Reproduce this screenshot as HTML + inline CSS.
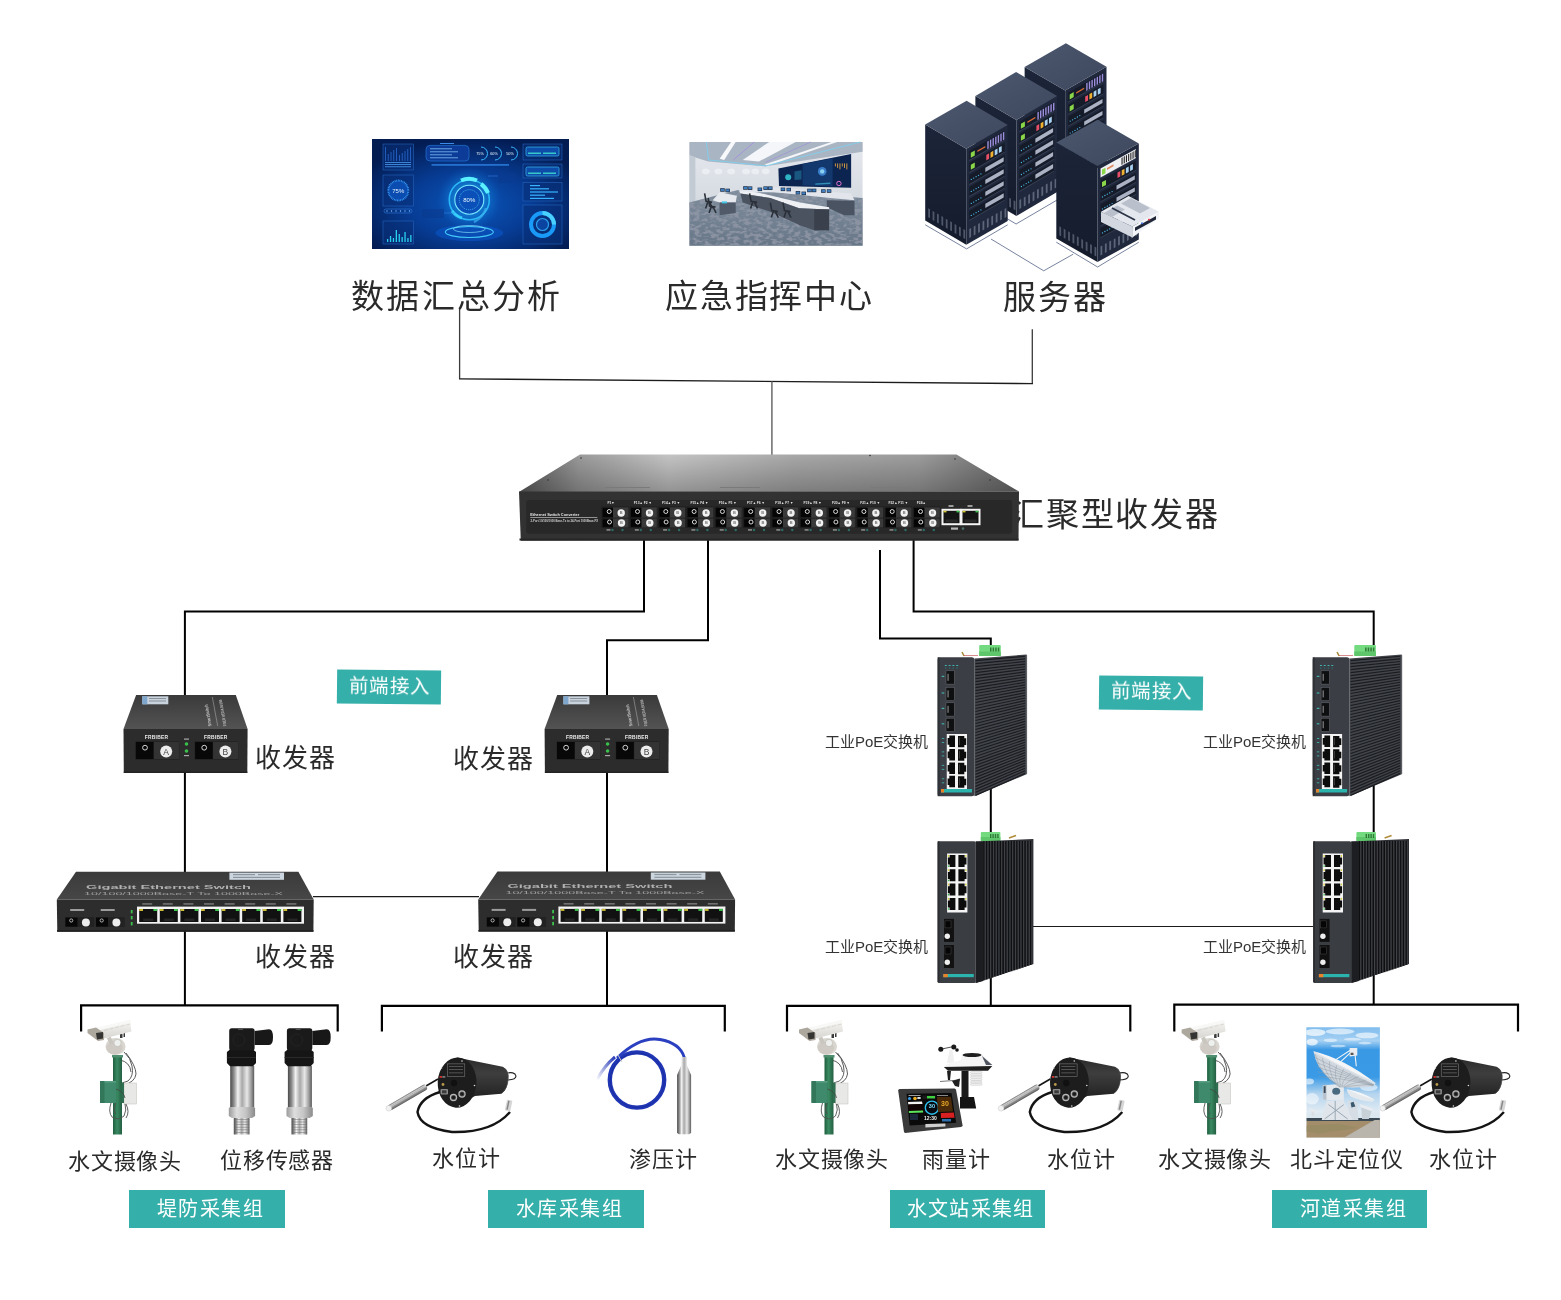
<!DOCTYPE html>
<html lang="zh-CN"><head><meta charset="utf-8"><style>
html,body{margin:0;padding:0;background:#fff}
#pg{position:relative;width:1561px;height:1300px;overflow:hidden;background:#fff;font-family:"Liberation Sans",sans-serif}
.t{position:absolute;white-space:nowrap;will-change:transform}
.box{position:absolute;background:#35afaa}
svg.full{position:absolute;left:0;top:0}
</style></head><body><div id="pg">
<svg class="full" width="1561" height="1300" viewBox="0 0 1561 1300"><path d="M459.6,308 L459.6,378.9" stroke="#3a3a3a" stroke-width="1.3" fill="none"/><path d="M1032.3,383.6 L1032.3,329.3" stroke="#3a3a3a" stroke-width="1.3" fill="none"/><path d="M459,378.9 L1033,383.6" stroke="#1c1c1c" stroke-width="1.4" fill="none"/><path d="M771.9,381.5 L771.9,455" stroke="#6a6a6a" stroke-width="1.5" fill="none"/><path d="M644,540 L644,611.5 L184.9,611.5 L184.9,696" stroke="#000" stroke-width="2" fill="none"/><path d="M708,540 L708,640.2 L607,640.2 L607,696" stroke="#000" stroke-width="2" fill="none"/><path d="M880,550 L880,638.4 L990.8,638.4 L990.8,646" stroke="#000" stroke-width="2" fill="none"/><path d="M913.6,540 L913.6,611.5 L1373.7,611.5 L1373.7,646" stroke="#000" stroke-width="2" fill="none"/><path d="M184.9,770 L184.9,873" stroke="#000" stroke-width="2" fill="none"/><path d="M607,770 L607,873" stroke="#000" stroke-width="2" fill="none"/><path d="M313,896.7 L479,896.7" stroke="#1a1a1a" stroke-width="1.2" fill="none"/><path d="M184.9,930 L184.9,1005.4" stroke="#000" stroke-width="2" fill="none"/><path d="M607,930 L607,1005.9" stroke="#000" stroke-width="2" fill="none"/><path d="M990.8,770 L990.8,842" stroke="#000" stroke-width="2" fill="none"/><path d="M1373.7,770 L1373.7,842" stroke="#000" stroke-width="2" fill="none"/><path d="M990.8,960 L990.8,1005.8" stroke="#000" stroke-width="2" fill="none"/><path d="M1373.7,960 L1373.7,1004.6" stroke="#000" stroke-width="2" fill="none"/><path d="M1030,926.5 L1314,926.5" stroke="#1a1a1a" stroke-width="1.2" fill="none"/><path d="M81.1,1031.5 L81.1,1005.4 L337.7,1005.4 L337.7,1031.5" stroke="#000" stroke-width="2.2" fill="none"/><path d="M381.9,1031.5 L381.9,1005.9 L724.8,1005.9 L724.8,1031.5" stroke="#000" stroke-width="2.2" fill="none"/><path d="M787,1031.5 L787,1005.8 L1130.3,1005.8 L1130.3,1031.5" stroke="#000" stroke-width="2.2" fill="none"/><path d="M1174.3,1031.5 L1174.3,1004.6 L1518,1004.6 L1518,1031.5" stroke="#000" stroke-width="2.2" fill="none"/></svg>
<div class="box" style="left:337px;top:669.5px;width:104px;height:33.5px;transform:rotate(0.6deg)"></div><div class="box" style="left:1099px;top:675.5px;width:104px;height:34px;transform:rotate(0.6deg)"></div><div class="box" style="left:129px;top:1190px;width:156px;height:38px;transform:rotate(0deg)"></div><div class="box" style="left:487.7px;top:1190px;width:156.3px;height:38px;transform:rotate(0deg)"></div><div class="box" style="left:889.7px;top:1190px;width:155.3px;height:38px;transform:rotate(0deg)"></div><div class="box" style="left:1271.7px;top:1190px;width:155.3px;height:38px;transform:rotate(0deg)"></div>
<div class="t" style="left:351.3px;top:279.5px;font-size:33px;line-height:33px;letter-spacing:2.3px;color:#2a2a2a;">数据汇总分析</div><div class="t" style="left:665.3px;top:279.5px;font-size:33px;line-height:33px;letter-spacing:1.8px;color:#2a2a2a;">应急指挥中心</div><div class="t" style="left:1002.9px;top:280.5px;font-size:33px;line-height:33px;letter-spacing:1.8px;color:#2a2a2a;">服务器</div><div class="t" style="left:1011.0px;top:497.5px;font-size:33px;line-height:33px;letter-spacing:1.8px;color:#2a2a2a;">汇聚型收发器</div><div class="t" style="left:254.8px;top:744.8px;font-size:26px;line-height:26px;letter-spacing:0.8px;color:#2a2a2a;">收发器</div><div class="t" style="left:452.8px;top:745.8px;font-size:26px;line-height:26px;letter-spacing:0.8px;color:#2a2a2a;">收发器</div><div class="t" style="left:255.0px;top:943.8px;font-size:26px;line-height:26px;letter-spacing:0.8px;color:#2a2a2a;">收发器</div><div class="t" style="left:452.8px;top:943.9px;font-size:26px;line-height:26px;letter-spacing:0.8px;color:#2a2a2a;">收发器</div><div class="t" style="left:825.0px;top:734.4px;font-size:15px;line-height:15px;letter-spacing:0px;color:#333;">工业PoE交换机</div><div class="t" style="left:825.0px;top:939.0px;font-size:15px;line-height:15px;letter-spacing:0px;color:#333;">工业PoE交换机</div><div class="t" style="left:1202.9px;top:734.4px;font-size:15px;line-height:15px;letter-spacing:0px;color:#333;">工业PoE交换机</div><div class="t" style="left:1202.9px;top:939.0px;font-size:15px;line-height:15px;letter-spacing:0px;color:#333;">工业PoE交换机</div><div class="t" style="left:67.7px;top:1150.5px;font-size:22px;line-height:22px;letter-spacing:0.8px;color:#2a2a2a;">水文摄像头</div><div class="t" style="left:220.4px;top:1149.5px;font-size:22px;line-height:22px;letter-spacing:0.8px;color:#2a2a2a;">位移传感器</div><div class="t" style="left:431.8px;top:1147.6px;font-size:22px;line-height:22px;letter-spacing:0.8px;color:#2a2a2a;">水位计</div><div class="t" style="left:628.5px;top:1148.8px;font-size:22px;line-height:22px;letter-spacing:0.8px;color:#2a2a2a;">渗压计</div><div class="t" style="left:775.0px;top:1149.4px;font-size:22px;line-height:22px;letter-spacing:0.8px;color:#2a2a2a;">水文摄像头</div><div class="t" style="left:922.4px;top:1149.4px;font-size:22px;line-height:22px;letter-spacing:0.8px;color:#2a2a2a;">雨量计</div><div class="t" style="left:1046.5px;top:1149.4px;font-size:22px;line-height:22px;letter-spacing:0.8px;color:#2a2a2a;">水位计</div><div class="t" style="left:1157.5px;top:1149.4px;font-size:22px;line-height:22px;letter-spacing:0.8px;color:#2a2a2a;">水文摄像头</div><div class="t" style="left:1289.7px;top:1149.4px;font-size:22px;line-height:22px;letter-spacing:0.8px;color:#2a2a2a;">北斗定位仪</div><div class="t" style="left:1428.5px;top:1149.4px;font-size:22px;line-height:22px;letter-spacing:0.8px;color:#2a2a2a;">水位计</div><div class="t" style="left:348.5px;top:677.0px;font-size:19.5px;line-height:19.5px;letter-spacing:0.3px;color:#fff;transform:rotate(0.6deg);transform-origin:40.5px 9.25px">前端接入</div><div class="t" style="left:1111.1px;top:682.0px;font-size:19.5px;line-height:19.5px;letter-spacing:0.3px;color:#fff;transform:rotate(0.6deg);transform-origin:39.90000000000009px 10.5px">前端接入</div><div class="t" style="left:156.5px;top:1199.3px;font-size:20px;line-height:20px;letter-spacing:1.4px;color:#fff;transform:rotate(0deg);transform-origin:50.5px 9.700000000000045px">堤防采集组</div><div class="t" style="left:515.8px;top:1199.3px;font-size:20px;line-height:20px;letter-spacing:1.4px;color:#fff;transform:rotate(0deg);transform-origin:50.05000000000004px 9.700000000000045px">水库采集组</div><div class="t" style="left:906.5px;top:1199.3px;font-size:20px;line-height:20px;letter-spacing:1.2px;color:#fff;transform:rotate(0deg);transform-origin:60.85000000000005px 9.700000000000045px">水文站采集组</div><div class="t" style="left:1299.5px;top:1199.3px;font-size:20px;line-height:20px;letter-spacing:1.4px;color:#fff;transform:rotate(0deg);transform-origin:49.85000000000005px 9.700000000000045px">河道采集组</div>
<svg class="full" width="1561" height="1300" viewBox="0 0 1561 1300"><defs><linearGradient id="bsTop" x1="0" y1="0" x2="1" y2="0">
<stop offset="0" stop-color="#5e5e5e"/><stop offset="0.12" stop-color="#9a9a9a"/><stop offset="0.3" stop-color="#c4c4c4"/>
<stop offset="0.55" stop-color="#a8a8a8"/><stop offset="0.8" stop-color="#9c9c9c"/><stop offset="1" stop-color="#6a6a6a"/></linearGradient>
<linearGradient id="bsTopV" x1="0" y1="0" x2="0" y2="1"><stop offset="0" stop-color="#000" stop-opacity="0"/><stop offset="1" stop-color="#000" stop-opacity="0.25"/></linearGradient><linearGradient id="cvTop" x1="0" y1="0" x2="0" y2="1"><stop offset="0" stop-color="#3a3a3a"/><stop offset="1" stop-color="#535353"/></linearGradient><linearGradient id="gsTop" x1="0" y1="0" x2="0" y2="1"><stop offset="0" stop-color="#3a3a3a"/><stop offset="1" stop-color="#474747"/></linearGradient><radialGradient id="dbBg" cx="0.5" cy="0.6" r="0.62"><stop offset="0" stop-color="#0a56ba"/><stop offset="0.5" stop-color="#073c94"/><stop offset="1" stop-color="#031c52"/></radialGradient>
<radialGradient id="dbGlow" cx="0.5" cy="0.5" r="0.5"><stop offset="0" stop-color="#5fe8ff" stop-opacity="0.75"/><stop offset="0.45" stop-color="#1aa8f0" stop-opacity="0.5"/><stop offset="1" stop-color="#0a6ad6" stop-opacity="0"/></radialGradient><linearGradient id="crFloor" x1="0" y1="0" x2="0" y2="1"><stop offset="0" stop-color="#7f8d9d"/><stop offset="1" stop-color="#687788"/></linearGradient>
<linearGradient id="crWall" x1="0" y1="0" x2="0" y2="1"><stop offset="0" stop-color="#e6e9ee"/><stop offset="1" stop-color="#c9d0d9"/></linearGradient>
<pattern id="crPat" width="23" height="13" patternUnits="userSpaceOnUse" patternTransform="rotate(-12)"><ellipse cx="5" cy="3" rx="4.5" ry="1.8" fill="#4a5666" opacity="0.55"/><ellipse cx="16" cy="9" rx="3.5" ry="1.6" fill="#525e70" opacity="0.5"/><ellipse cx="13" cy="2" rx="2" ry="0.9" fill="#a4b2c2" opacity="0.5"/><ellipse cx="3" cy="10" rx="2.5" ry="1" fill="#9aa8b8" opacity="0.45"/><ellipse cx="20" cy="5" rx="1.5" ry="1" fill="#56627a" opacity="0.5"/></pattern><filter id="crNoise" x="0" y="0" width="100%" height="100%"><feTurbulence type="fractalNoise" baseFrequency="0.18 0.32" numOctaves="2" seed="7"/><feColorMatrix type="matrix" values="0 0 0 0 0.28  0 0 0 0 0.31  0 0 0 0 0.38  0 0 0 -4.5 2.55"/><feComposite in2="SourceGraphic" operator="in"/></filter>
<clipPath id="crFloorClip"><polygon points="689.4,202.6 738.0,189.9 862.6,198.0 862.6,245.8 689.4,245.8"/></clipPath><linearGradient id="rkL" x1="0" y1="0" x2="0" y2="1"><stop offset="0" stop-color="#1c2539"/><stop offset="1" stop-color="#141b2b"/></linearGradient>
<linearGradient id="rkT" x1="0" y1="0" x2="1" y2="1"><stop offset="0" stop-color="#4c586f"/><stop offset="1" stop-color="#3d475d"/></linearGradient><linearGradient id="poleG" x1="0" y1="0" x2="1" y2="0"><stop offset="0" stop-color="#1f5e3e"/><stop offset="0.45" stop-color="#3a8a62"/><stop offset="1" stop-color="#245f42"/></linearGradient>
<linearGradient id="camG" x1="0" y1="0" x2="0" y2="1"><stop offset="0" stop-color="#f6f6f4"/><stop offset="1" stop-color="#d6d4cf"/></linearGradient><linearGradient id="steelG" x1="0" y1="0" x2="1" y2="0"><stop offset="0" stop-color="#4a4a4a"/><stop offset="0.15" stop-color="#8a8a8a"/><stop offset="0.32" stop-color="#f2f2f2"/><stop offset="0.5" stop-color="#a8a8a8"/><stop offset="0.7" stop-color="#e8e8e8"/><stop offset="0.88" stop-color="#9a9a9a"/><stop offset="1" stop-color="#5a5a5a"/></linearGradient>
<linearGradient id="nutG" x1="0" y1="0" x2="1" y2="0"><stop offset="0" stop-color="#9a9a9a"/><stop offset="0.3" stop-color="#dedede"/><stop offset="0.65" stop-color="#c4c4c4"/><stop offset="1" stop-color="#8a8a8a"/></linearGradient><linearGradient id="cylG" x1="0" y1="0" x2="0" y2="1"><stop offset="0" stop-color="#2a2a2a"/><stop offset="0.35" stop-color="#3e3e3e"/><stop offset="0.7" stop-color="#2c2c2c"/><stop offset="1" stop-color="#1a1a1a"/></linearGradient>
<linearGradient id="probeX" x1="0" y1="0" x2="0" y2="1"><stop offset="0" stop-color="#6a6a6a"/><stop offset="0.3" stop-color="#e6e6e6"/><stop offset="0.6" stop-color="#a0a0a0"/><stop offset="1" stop-color="#555"/></linearGradient><linearGradient id="fadeBlue" x1="1" y1="0" x2="0" y2="1"><stop offset="0" stop-color="#2438b8"/><stop offset="1" stop-color="#2438b8" stop-opacity="0"/></linearGradient><linearGradient id="skyG" x1="0" y1="0" x2="0" y2="1"><stop offset="0" stop-color="#3a98e4"/><stop offset="0.45" stop-color="#3a9ae6"/><stop offset="0.6" stop-color="#b4d4ee"/><stop offset="0.78" stop-color="#e4edf4"/><stop offset="1" stop-color="#dfe8ef"/></linearGradient>
<clipPath id="tclip"><rect x="1306.3" y="1027.2" width="73.6" height="110.6"/></clipPath><linearGradient id="cloudBand" x1="0" y1="0" x2="0" y2="1"><stop offset="0" stop-color="#fff" stop-opacity="0.35"/><stop offset="0.6" stop-color="#fff" stop-opacity="0.55"/><stop offset="1" stop-color="#fff" stop-opacity="0"/></linearGradient></defs><g><polygon points="519,492 580,454.5 956.5,454.5 1019,491.5" fill="url(#bsTop)"/><polygon points="519,492 580,454.5 956.5,454.5 1019,491.5" fill="url(#bsTopV)"/><line x1="605" y1="487.5" x2="650" y2="487.5" stroke="#7a7a7a" stroke-width="1"/><line x1="720" y1="487.5" x2="760" y2="487.5" stroke="#7a7a7a" stroke-width="1"/><line x1="870" y1="487.5" x2="910" y2="487.5" stroke="#7a7a7a" stroke-width="1"/><circle cx="581" cy="458" r="0.8" fill="#333"/><circle cx="548" cy="480" r="0.8" fill="#333"/><circle cx="870" cy="455.5" r="0.8" fill="#333"/><circle cx="955" cy="459" r="0.8" fill="#333"/><circle cx="990" cy="480" r="0.8" fill="#333"/><polygon points="519,491.5 1019,491.5 1018.5,540.5 520.8,540.7" fill="#323232"/><rect x="519.5" y="538.5" width="499" height="2" fill="#262626"/><rect x="526.2" y="500.1" width="486" height="33.7" rx="3" fill="#282828"/><text x="530.3" y="516.3" font-size="4" font-weight="bold" fill="#e6e6e6" font-family="Liberation Sans" textLength="49" lengthAdjust="spacingAndGlyphs">Ethernet Switch Converter</text><rect x="530.3" y="517.2" width="67" height="0.6" fill="#ddd"/><text x="530.6" y="521.6" font-size="2.6" font-weight="bold" fill="#d0d0d0" font-family="Liberation Sans" textLength="67.4" lengthAdjust="spacingAndGlyphs">2-Port 10/100/1000 Base-Tx to 24-Port 1000Base-FX</text><rect x="601.5" y="506.5" width="27.5" height="21.5" fill="#1c1c1c"/><rect x="613.0" y="507.3" width="15.5" height="10.4" fill="#3a3a3a"/><rect x="602.7" y="508.1" width="10.3" height="8.9" fill="#050505"/><rect x="613.0" y="518.5" width="15.5" height="9" fill="#3a3a3a"/><rect x="602.7" y="519.3" width="10.3" height="7.5" fill="#050505"/><circle cx="609.2" cy="511.5" r="2" fill="none" stroke="#eee" stroke-width="0.9"/><circle cx="609.5" cy="522" r="2" fill="none" stroke="#eee" stroke-width="0.9"/><circle cx="621.2" cy="513" r="3.7" fill="#f2f2f2"/><circle cx="621.5" cy="523" r="3.7" fill="#f2f2f2"/><text x="621.2" y="514.4" font-size="4" font-weight="bold" text-anchor="middle" fill="#777" font-family="Liberation Sans">B</text><text x="621.5" y="524.4" font-size="4" font-weight="bold" text-anchor="middle" fill="#777" font-family="Liberation Sans">B</text><text x="607.5" y="504.3" font-size="3.3" font-weight="bold" fill="#e0e0e0" font-family="Liberation Sans">F1▼</text><rect x="606.5" y="529" width="4" height="1.8" fill="#bbb" opacity="0.6"/><circle cx="612.5" cy="530" r="1.2" fill="#2f6b66"/><circle cx="622.5" cy="530" r="1.2" fill="#2f6b66"/><rect x="629.8" y="506.5" width="27.5" height="21.5" fill="#1c1c1c"/><rect x="641.3" y="507.3" width="15.5" height="10.4" fill="#3a3a3a"/><rect x="631.0" y="508.1" width="10.3" height="8.9" fill="#050505"/><rect x="641.3" y="518.5" width="15.5" height="9" fill="#3a3a3a"/><rect x="631.0" y="519.3" width="10.3" height="7.5" fill="#050505"/><circle cx="637.5" cy="511.5" r="2" fill="none" stroke="#eee" stroke-width="0.9"/><circle cx="637.8" cy="522" r="2" fill="none" stroke="#eee" stroke-width="0.9"/><circle cx="649.5" cy="513" r="3.7" fill="#f2f2f2"/><circle cx="649.8" cy="523" r="3.7" fill="#f2f2f2"/><text x="649.5" y="514.4" font-size="4" font-weight="bold" text-anchor="middle" fill="#777" font-family="Liberation Sans">B</text><text x="649.8" y="524.4" font-size="4" font-weight="bold" text-anchor="middle" fill="#777" font-family="Liberation Sans">B</text><text x="633.8" y="504.3" font-size="3.3" font-weight="bold" fill="#e0e0e0" font-family="Liberation Sans">F13▲ F2 ▼</text><rect x="634.8" y="529" width="4" height="1.8" fill="#bbb" opacity="0.6"/><circle cx="640.8" cy="530" r="1.2" fill="#2f6b66"/><circle cx="650.8" cy="530" r="1.2" fill="#2f6b66"/><rect x="658.1" y="506.5" width="27.5" height="21.5" fill="#1c1c1c"/><rect x="669.6" y="507.3" width="15.5" height="10.4" fill="#3a3a3a"/><rect x="659.3000000000001" y="508.1" width="10.3" height="8.9" fill="#050505"/><rect x="669.6" y="518.5" width="15.5" height="9" fill="#3a3a3a"/><rect x="659.3000000000001" y="519.3" width="10.3" height="7.5" fill="#050505"/><circle cx="665.8000000000001" cy="511.5" r="2" fill="none" stroke="#eee" stroke-width="0.9"/><circle cx="666.1" cy="522" r="2" fill="none" stroke="#eee" stroke-width="0.9"/><circle cx="677.8000000000001" cy="513" r="3.7" fill="#f2f2f2"/><circle cx="678.1" cy="523" r="3.7" fill="#f2f2f2"/><text x="677.8000000000001" y="514.4" font-size="4" font-weight="bold" text-anchor="middle" fill="#777" font-family="Liberation Sans">B</text><text x="678.1" y="524.4" font-size="4" font-weight="bold" text-anchor="middle" fill="#777" font-family="Liberation Sans">B</text><text x="662.1" y="504.3" font-size="3.3" font-weight="bold" fill="#e0e0e0" font-family="Liberation Sans">F14▲ F3 ▼</text><rect x="663.1" y="529" width="4" height="1.8" fill="#bbb" opacity="0.6"/><circle cx="669.1" cy="530" r="1.2" fill="#2f6b66"/><circle cx="679.1" cy="530" r="1.2" fill="#2f6b66"/><rect x="686.4" y="506.5" width="27.5" height="21.5" fill="#1c1c1c"/><rect x="697.9" y="507.3" width="15.5" height="10.4" fill="#3a3a3a"/><rect x="687.6" y="508.1" width="10.3" height="8.9" fill="#050505"/><rect x="697.9" y="518.5" width="15.5" height="9" fill="#3a3a3a"/><rect x="687.6" y="519.3" width="10.3" height="7.5" fill="#050505"/><circle cx="694.1" cy="511.5" r="2" fill="none" stroke="#eee" stroke-width="0.9"/><circle cx="694.4" cy="522" r="2" fill="none" stroke="#eee" stroke-width="0.9"/><circle cx="706.1" cy="513" r="3.7" fill="#f2f2f2"/><circle cx="706.4" cy="523" r="3.7" fill="#f2f2f2"/><text x="706.1" y="514.4" font-size="4" font-weight="bold" text-anchor="middle" fill="#777" font-family="Liberation Sans">B</text><text x="706.4" y="524.4" font-size="4" font-weight="bold" text-anchor="middle" fill="#777" font-family="Liberation Sans">B</text><text x="690.4" y="504.3" font-size="3.3" font-weight="bold" fill="#e0e0e0" font-family="Liberation Sans">F15▲ F4 ▼</text><rect x="691.4" y="529" width="4" height="1.8" fill="#bbb" opacity="0.6"/><circle cx="697.4" cy="530" r="1.2" fill="#2f6b66"/><circle cx="707.4" cy="530" r="1.2" fill="#2f6b66"/><rect x="714.7" y="506.5" width="27.5" height="21.5" fill="#1c1c1c"/><rect x="726.2" y="507.3" width="15.5" height="10.4" fill="#3a3a3a"/><rect x="715.9000000000001" y="508.1" width="10.3" height="8.9" fill="#050505"/><rect x="726.2" y="518.5" width="15.5" height="9" fill="#3a3a3a"/><rect x="715.9000000000001" y="519.3" width="10.3" height="7.5" fill="#050505"/><circle cx="722.4000000000001" cy="511.5" r="2" fill="none" stroke="#eee" stroke-width="0.9"/><circle cx="722.7" cy="522" r="2" fill="none" stroke="#eee" stroke-width="0.9"/><circle cx="734.4000000000001" cy="513" r="3.7" fill="#f2f2f2"/><circle cx="734.7" cy="523" r="3.7" fill="#f2f2f2"/><text x="734.4000000000001" y="514.4" font-size="4" font-weight="bold" text-anchor="middle" fill="#777" font-family="Liberation Sans">B</text><text x="734.7" y="524.4" font-size="4" font-weight="bold" text-anchor="middle" fill="#777" font-family="Liberation Sans">B</text><text x="718.7" y="504.3" font-size="3.3" font-weight="bold" fill="#e0e0e0" font-family="Liberation Sans">F16▲ F5 ▼</text><rect x="719.7" y="529" width="4" height="1.8" fill="#bbb" opacity="0.6"/><circle cx="725.7" cy="530" r="1.2" fill="#2f6b66"/><circle cx="735.7" cy="530" r="1.2" fill="#2f6b66"/><rect x="743.0" y="506.5" width="27.5" height="21.5" fill="#1c1c1c"/><rect x="754.5" y="507.3" width="15.5" height="10.4" fill="#3a3a3a"/><rect x="744.2" y="508.1" width="10.3" height="8.9" fill="#050505"/><rect x="754.5" y="518.5" width="15.5" height="9" fill="#3a3a3a"/><rect x="744.2" y="519.3" width="10.3" height="7.5" fill="#050505"/><circle cx="750.7" cy="511.5" r="2" fill="none" stroke="#eee" stroke-width="0.9"/><circle cx="751.0" cy="522" r="2" fill="none" stroke="#eee" stroke-width="0.9"/><circle cx="762.7" cy="513" r="3.7" fill="#f2f2f2"/><circle cx="763.0" cy="523" r="3.7" fill="#f2f2f2"/><text x="762.7" y="514.4" font-size="4" font-weight="bold" text-anchor="middle" fill="#777" font-family="Liberation Sans">B</text><text x="763.0" y="524.4" font-size="4" font-weight="bold" text-anchor="middle" fill="#777" font-family="Liberation Sans">B</text><text x="747.0" y="504.3" font-size="3.3" font-weight="bold" fill="#e0e0e0" font-family="Liberation Sans">F17▲ F6 ▼</text><rect x="748.0" y="529" width="4" height="1.8" fill="#bbb" opacity="0.6"/><circle cx="754.0" cy="530" r="1.2" fill="#2f6b66"/><circle cx="764.0" cy="530" r="1.2" fill="#2f6b66"/><rect x="771.3" y="506.5" width="27.5" height="21.5" fill="#1c1c1c"/><rect x="782.8" y="507.3" width="15.5" height="10.4" fill="#3a3a3a"/><rect x="772.5" y="508.1" width="10.3" height="8.9" fill="#050505"/><rect x="782.8" y="518.5" width="15.5" height="9" fill="#3a3a3a"/><rect x="772.5" y="519.3" width="10.3" height="7.5" fill="#050505"/><circle cx="779.0" cy="511.5" r="2" fill="none" stroke="#eee" stroke-width="0.9"/><circle cx="779.3" cy="522" r="2" fill="none" stroke="#eee" stroke-width="0.9"/><circle cx="791.0" cy="513" r="3.7" fill="#f2f2f2"/><circle cx="791.3" cy="523" r="3.7" fill="#f2f2f2"/><text x="791.0" y="514.4" font-size="4" font-weight="bold" text-anchor="middle" fill="#777" font-family="Liberation Sans">B</text><text x="791.3" y="524.4" font-size="4" font-weight="bold" text-anchor="middle" fill="#777" font-family="Liberation Sans">B</text><text x="775.3" y="504.3" font-size="3.3" font-weight="bold" fill="#e0e0e0" font-family="Liberation Sans">F18▲ F7 ▼</text><rect x="776.3" y="529" width="4" height="1.8" fill="#bbb" opacity="0.6"/><circle cx="782.3" cy="530" r="1.2" fill="#2f6b66"/><circle cx="792.3" cy="530" r="1.2" fill="#2f6b66"/><rect x="799.6" y="506.5" width="27.5" height="21.5" fill="#1c1c1c"/><rect x="811.1" y="507.3" width="15.5" height="10.4" fill="#3a3a3a"/><rect x="800.8000000000001" y="508.1" width="10.3" height="8.9" fill="#050505"/><rect x="811.1" y="518.5" width="15.5" height="9" fill="#3a3a3a"/><rect x="800.8000000000001" y="519.3" width="10.3" height="7.5" fill="#050505"/><circle cx="807.3000000000001" cy="511.5" r="2" fill="none" stroke="#eee" stroke-width="0.9"/><circle cx="807.6" cy="522" r="2" fill="none" stroke="#eee" stroke-width="0.9"/><circle cx="819.3000000000001" cy="513" r="3.7" fill="#f2f2f2"/><circle cx="819.6" cy="523" r="3.7" fill="#f2f2f2"/><text x="819.3000000000001" y="514.4" font-size="4" font-weight="bold" text-anchor="middle" fill="#777" font-family="Liberation Sans">B</text><text x="819.6" y="524.4" font-size="4" font-weight="bold" text-anchor="middle" fill="#777" font-family="Liberation Sans">B</text><text x="803.6" y="504.3" font-size="3.3" font-weight="bold" fill="#e0e0e0" font-family="Liberation Sans">F19▲ F8 ▼</text><rect x="804.6" y="529" width="4" height="1.8" fill="#bbb" opacity="0.6"/><circle cx="810.6" cy="530" r="1.2" fill="#2f6b66"/><circle cx="820.6" cy="530" r="1.2" fill="#2f6b66"/><rect x="827.9" y="506.5" width="27.5" height="21.5" fill="#1c1c1c"/><rect x="839.4" y="507.3" width="15.5" height="10.4" fill="#3a3a3a"/><rect x="829.1" y="508.1" width="10.3" height="8.9" fill="#050505"/><rect x="839.4" y="518.5" width="15.5" height="9" fill="#3a3a3a"/><rect x="829.1" y="519.3" width="10.3" height="7.5" fill="#050505"/><circle cx="835.6" cy="511.5" r="2" fill="none" stroke="#eee" stroke-width="0.9"/><circle cx="835.9" cy="522" r="2" fill="none" stroke="#eee" stroke-width="0.9"/><circle cx="847.6" cy="513" r="3.7" fill="#f2f2f2"/><circle cx="847.9" cy="523" r="3.7" fill="#f2f2f2"/><text x="847.6" y="514.4" font-size="4" font-weight="bold" text-anchor="middle" fill="#777" font-family="Liberation Sans">B</text><text x="847.9" y="524.4" font-size="4" font-weight="bold" text-anchor="middle" fill="#777" font-family="Liberation Sans">B</text><text x="831.9" y="504.3" font-size="3.3" font-weight="bold" fill="#e0e0e0" font-family="Liberation Sans">F20▲ F9 ▼</text><rect x="832.9" y="529" width="4" height="1.8" fill="#bbb" opacity="0.6"/><circle cx="838.9" cy="530" r="1.2" fill="#2f6b66"/><circle cx="848.9" cy="530" r="1.2" fill="#2f6b66"/><rect x="856.2" y="506.5" width="27.5" height="21.5" fill="#1c1c1c"/><rect x="867.7" y="507.3" width="15.5" height="10.4" fill="#3a3a3a"/><rect x="857.4000000000001" y="508.1" width="10.3" height="8.9" fill="#050505"/><rect x="867.7" y="518.5" width="15.5" height="9" fill="#3a3a3a"/><rect x="857.4000000000001" y="519.3" width="10.3" height="7.5" fill="#050505"/><circle cx="863.9000000000001" cy="511.5" r="2" fill="none" stroke="#eee" stroke-width="0.9"/><circle cx="864.2" cy="522" r="2" fill="none" stroke="#eee" stroke-width="0.9"/><circle cx="875.9000000000001" cy="513" r="3.7" fill="#f2f2f2"/><circle cx="876.2" cy="523" r="3.7" fill="#f2f2f2"/><text x="875.9000000000001" y="514.4" font-size="4" font-weight="bold" text-anchor="middle" fill="#777" font-family="Liberation Sans">B</text><text x="876.2" y="524.4" font-size="4" font-weight="bold" text-anchor="middle" fill="#777" font-family="Liberation Sans">B</text><text x="860.2" y="504.3" font-size="3.3" font-weight="bold" fill="#e0e0e0" font-family="Liberation Sans">F21▲ F10 ▼</text><rect x="861.2" y="529" width="4" height="1.8" fill="#bbb" opacity="0.6"/><circle cx="867.2" cy="530" r="1.2" fill="#2f6b66"/><circle cx="877.2" cy="530" r="1.2" fill="#2f6b66"/><rect x="884.5" y="506.5" width="27.5" height="21.5" fill="#1c1c1c"/><rect x="896.0" y="507.3" width="15.5" height="10.4" fill="#3a3a3a"/><rect x="885.7" y="508.1" width="10.3" height="8.9" fill="#050505"/><rect x="896.0" y="518.5" width="15.5" height="9" fill="#3a3a3a"/><rect x="885.7" y="519.3" width="10.3" height="7.5" fill="#050505"/><circle cx="892.2" cy="511.5" r="2" fill="none" stroke="#eee" stroke-width="0.9"/><circle cx="892.5" cy="522" r="2" fill="none" stroke="#eee" stroke-width="0.9"/><circle cx="904.2" cy="513" r="3.7" fill="#f2f2f2"/><circle cx="904.5" cy="523" r="3.7" fill="#f2f2f2"/><text x="904.2" y="514.4" font-size="4" font-weight="bold" text-anchor="middle" fill="#777" font-family="Liberation Sans">B</text><text x="904.5" y="524.4" font-size="4" font-weight="bold" text-anchor="middle" fill="#777" font-family="Liberation Sans">B</text><text x="888.5" y="504.3" font-size="3.3" font-weight="bold" fill="#e0e0e0" font-family="Liberation Sans">F22▲ F11 ▼</text><rect x="889.5" y="529" width="4" height="1.8" fill="#bbb" opacity="0.6"/><circle cx="895.5" cy="530" r="1.2" fill="#2f6b66"/><circle cx="905.5" cy="530" r="1.2" fill="#2f6b66"/><rect x="912.8" y="506.5" width="27.5" height="21.5" fill="#1c1c1c"/><rect x="924.3" y="507.3" width="15.5" height="10.4" fill="#3a3a3a"/><rect x="914.0" y="508.1" width="10.3" height="8.9" fill="#050505"/><rect x="924.3" y="518.5" width="15.5" height="9" fill="#3a3a3a"/><rect x="914.0" y="519.3" width="10.3" height="7.5" fill="#050505"/><circle cx="920.5" cy="511.5" r="2" fill="none" stroke="#eee" stroke-width="0.9"/><circle cx="920.8" cy="522" r="2" fill="none" stroke="#eee" stroke-width="0.9"/><circle cx="932.5" cy="513" r="3.7" fill="#f2f2f2"/><circle cx="932.8" cy="523" r="3.7" fill="#f2f2f2"/><text x="932.5" y="514.4" font-size="4" font-weight="bold" text-anchor="middle" fill="#777" font-family="Liberation Sans">B</text><text x="932.8" y="524.4" font-size="4" font-weight="bold" text-anchor="middle" fill="#777" font-family="Liberation Sans">B</text><text x="916.8" y="504.3" font-size="3.3" font-weight="bold" fill="#e0e0e0" font-family="Liberation Sans">F24▲</text><rect x="917.8" y="529" width="4" height="1.8" fill="#bbb" opacity="0.6"/><circle cx="923.8" cy="530" r="1.2" fill="#2f6b66"/><circle cx="933.8" cy="530" r="1.2" fill="#2f6b66"/><rect x="941.5" y="508.8" width="20" height="16.4" fill="#f4f4f4"/><rect x="943.5" y="510.8" width="16" height="12.4" fill="#151515"/><rect x="943.5" y="510.8" width="3" height="1.6" fill="#d7c930"/><rect x="956.5" y="510.8" width="3" height="1.6" fill="#3cc24a"/><rect x="945.5" y="519.5" width="12" height="3" fill="#2a2a2a"/><rect x="948.5" y="505" width="5" height="2" fill="#ccc" opacity="0.7"/><rect x="960.5" y="508.8" width="20" height="16.4" fill="#f4f4f4"/><rect x="962.5" y="510.8" width="16" height="12.4" fill="#151515"/><rect x="962.5" y="510.8" width="3" height="1.6" fill="#d7c930"/><rect x="975.5" y="510.8" width="3" height="1.6" fill="#3cc24a"/><rect x="964.5" y="519.5" width="12" height="3" fill="#2a2a2a"/><rect x="967.5" y="505" width="5" height="2" fill="#ccc" opacity="0.7"/><rect x="951" y="527.5" width="7" height="2.2" fill="#ddd" opacity="0.8"/><circle cx="963" cy="528.6" r="1.3" fill="#4a6e6a"/></g><g transform="translate(0,0)"><polygon points="123.5,729 136.1,695 235.8,695 247.6,729" fill="url(#cvTop)"/><rect x="142.3" y="696.3" width="26" height="8" fill="#c9d3de"/><rect x="142.3" y="696.3" width="5" height="8" fill="#7fa6cc"/><rect x="149" y="698" width="17" height="1" fill="#8a929a"/><rect x="149" y="700.5" width="17" height="1" fill="#8a929a"/><line x1="212.3" y1="697" x2="217.7" y2="726" stroke="#b8b8b8" stroke-width="0.5"/><text x="0" y="0" font-size="4.6" font-weight="bold" fill="#c8c8c8" font-family="Liberation Sans" textLength="22" lengthAdjust="spacingAndGlyphs" transform="translate(211.5 726) rotate(-100)">SmartSwitch</text><text x="0" y="0" font-size="4.2" font-weight="bold" fill="#c0c0c0" font-family="Liberation Sans" textLength="27" lengthAdjust="spacingAndGlyphs" transform="translate(226.5 726) rotate(-100)">FIBER MEDIA 10/100</text><polygon points="123.5,729 247.6,729 247.3,773 123.8,773" fill="#2c2c2c"/><rect x="123.8" y="771.5" width="123.5" height="1.5" fill="#222"/><text x="144.8" y="739" font-size="4.9" font-weight="bold" fill="#ececec" font-family="Liberation Sans" textLength="23.2" lengthAdjust="spacing">FRBIBER</text><rect x="135.4" y="741.2" width="43.8" height="18.5" fill="#222"/><rect x="135.9" y="742" width="17.6" height="17" fill="#080808"/><rect x="153.9" y="742" width="25" height="17" fill="#333"/><circle cx="145.0" cy="747.7" r="2.4" fill="none" stroke="#e8e8e8" stroke-width="0.9"/><circle cx="166.20000000000002" cy="751.6" r="6" fill="#ededed"/><text x="166.20000000000002" y="754.8" font-size="8.5" text-anchor="middle" fill="#444" font-family="Liberation Sans">A</text><text x="204.0" y="739" font-size="4.9" font-weight="bold" fill="#ececec" font-family="Liberation Sans" textLength="23.2" lengthAdjust="spacing">FRBIBER</text><rect x="194.6" y="741.2" width="43.8" height="18.5" fill="#222"/><rect x="195.1" y="742" width="17.6" height="17" fill="#080808"/><rect x="213.1" y="742" width="25" height="17" fill="#333"/><circle cx="204.2" cy="747.7" r="2.4" fill="none" stroke="#e8e8e8" stroke-width="0.9"/><circle cx="225.4" cy="751.6" r="6" fill="#ededed"/><text x="225.4" y="754.8" font-size="8.5" text-anchor="middle" fill="#444" font-family="Liberation Sans">B</text><circle cx="186.5" cy="744" r="1.8" fill="#39c14a"/><circle cx="186.5" cy="751" r="1.8" fill="#39c14a"/><rect x="184" y="738.5" width="5" height="1.2" fill="#aaa"/><rect x="184" y="755" width="5" height="1.2" fill="#aaa"/></g><g transform="translate(421.1,0)"><polygon points="123.5,729 136.1,695 235.8,695 247.6,729" fill="url(#cvTop)"/><rect x="142.3" y="696.3" width="26" height="8" fill="#c9d3de"/><rect x="142.3" y="696.3" width="5" height="8" fill="#7fa6cc"/><rect x="149" y="698" width="17" height="1" fill="#8a929a"/><rect x="149" y="700.5" width="17" height="1" fill="#8a929a"/><line x1="212.3" y1="697" x2="217.7" y2="726" stroke="#b8b8b8" stroke-width="0.5"/><text x="0" y="0" font-size="4.6" font-weight="bold" fill="#c8c8c8" font-family="Liberation Sans" textLength="22" lengthAdjust="spacingAndGlyphs" transform="translate(211.5 726) rotate(-100)">SmartSwitch</text><text x="0" y="0" font-size="4.2" font-weight="bold" fill="#c0c0c0" font-family="Liberation Sans" textLength="27" lengthAdjust="spacingAndGlyphs" transform="translate(226.5 726) rotate(-100)">FIBER MEDIA 10/100</text><polygon points="123.5,729 247.6,729 247.3,773 123.8,773" fill="#2c2c2c"/><rect x="123.8" y="771.5" width="123.5" height="1.5" fill="#222"/><text x="144.8" y="739" font-size="4.9" font-weight="bold" fill="#ececec" font-family="Liberation Sans" textLength="23.2" lengthAdjust="spacing">FRBIBER</text><rect x="135.4" y="741.2" width="43.8" height="18.5" fill="#222"/><rect x="135.9" y="742" width="17.6" height="17" fill="#080808"/><rect x="153.9" y="742" width="25" height="17" fill="#333"/><circle cx="145.0" cy="747.7" r="2.4" fill="none" stroke="#e8e8e8" stroke-width="0.9"/><circle cx="166.20000000000002" cy="751.6" r="6" fill="#ededed"/><text x="166.20000000000002" y="754.8" font-size="8.5" text-anchor="middle" fill="#444" font-family="Liberation Sans">A</text><text x="204.0" y="739" font-size="4.9" font-weight="bold" fill="#ececec" font-family="Liberation Sans" textLength="23.2" lengthAdjust="spacing">FRBIBER</text><rect x="194.6" y="741.2" width="43.8" height="18.5" fill="#222"/><rect x="195.1" y="742" width="17.6" height="17" fill="#080808"/><rect x="213.1" y="742" width="25" height="17" fill="#333"/><circle cx="204.2" cy="747.7" r="2.4" fill="none" stroke="#e8e8e8" stroke-width="0.9"/><circle cx="225.4" cy="751.6" r="6" fill="#ededed"/><text x="225.4" y="754.8" font-size="8.5" text-anchor="middle" fill="#444" font-family="Liberation Sans">B</text><circle cx="186.5" cy="744" r="1.8" fill="#39c14a"/><circle cx="186.5" cy="751" r="1.8" fill="#39c14a"/><rect x="184" y="738.5" width="5" height="1.2" fill="#aaa"/><rect x="184" y="755" width="5" height="1.2" fill="#aaa"/></g><g transform="translate(0,0)"><polygon points="56.8,899.5 76,871.7 298.4,871.7 313.7,899.5" fill="url(#gsTop)"/><rect x="229.4" y="872.6" width="54.6" height="7.2" fill="#ccd6e0"/><rect x="233" y="874" width="22" height="1.2" fill="#8d959c"/><rect x="258" y="874" width="22" height="1.2" fill="#8d959c"/><rect x="233" y="876.8" width="47" height="1.2" fill="#8d959c"/><text x="86" y="888.6" font-size="4.6" fill="#b0b0b0" font-family="Liberation Sans" font-weight="bold" textLength="165" lengthAdjust="spacingAndGlyphs">Gigabit Ethernet Switch</text><text x="84" y="894.6" font-size="4.4" fill="#a0a0a0" font-family="Liberation Sans" font-weight="normal" textLength="199" lengthAdjust="spacingAndGlyphs">10/100/1000Base-T To 1000Base-X</text><polygon points="56.8,899.5 313.7,899.5 313.4,931.7 57.3,931.7" fill="#2d2d2d"/><rect x="57" y="930" width="256.5" height="1.7" fill="#222"/><rect x="70.2" y="909" width="14" height="2" fill="#ccc" opacity="0.7"/><rect x="65.2" y="917.2" width="29" height="9.8" fill="#222"/><rect x="65.5" y="917.6" width="12" height="9" fill="#070707"/><circle cx="71.2" cy="920.5" r="1.6" fill="none" stroke="#eee" stroke-width="0.7"/><circle cx="85.9" cy="922.4" r="4" fill="#eee"/><rect x="100.7" y="909" width="14" height="2" fill="#ccc" opacity="0.7"/><rect x="95.7" y="917.2" width="29" height="9.8" fill="#222"/><rect x="96.0" y="917.6" width="12" height="9" fill="#070707"/><circle cx="101.7" cy="920.5" r="1.6" fill="none" stroke="#eee" stroke-width="0.7"/><circle cx="116.4" cy="922.4" r="4" fill="#eee"/><rect x="130.8" y="910" width="1.8" height="3.4" fill="#3dc44c"/><rect x="130.8" y="916" width="1.8" height="3.4" fill="#3dc44c"/><rect x="130.8" y="922" width="1.8" height="3.4" fill="#3dc44c"/><rect x="137" y="906.6" width="167" height="17.1" fill="#f3f3f3"/><rect x="139.2" y="909" width="18" height="13" fill="#111"/><rect x="139.2" y="909" width="3.8" height="2" fill="#c9bb34"/><rect x="153.39999999999998" y="909" width="3.8" height="2" fill="#3ec44d"/><rect x="143.2" y="918.5" width="10" height="2.5" fill="#262626"/><rect x="142.2" y="903.3" width="10" height="1.3" fill="#bbb" opacity="0.6"/><rect x="159.79999999999998" y="909" width="18" height="13" fill="#111"/><rect x="159.79999999999998" y="909" width="3.8" height="2" fill="#c9bb34"/><rect x="173.99999999999997" y="909" width="3.8" height="2" fill="#3ec44d"/><rect x="163.79999999999998" y="918.5" width="10" height="2.5" fill="#262626"/><rect x="162.79999999999998" y="903.3" width="10" height="1.3" fill="#bbb" opacity="0.6"/><rect x="180.39999999999998" y="909" width="18" height="13" fill="#111"/><rect x="180.39999999999998" y="909" width="3.8" height="2" fill="#c9bb34"/><rect x="194.59999999999997" y="909" width="3.8" height="2" fill="#3ec44d"/><rect x="184.39999999999998" y="918.5" width="10" height="2.5" fill="#262626"/><rect x="183.39999999999998" y="903.3" width="10" height="1.3" fill="#bbb" opacity="0.6"/><rect x="201.0" y="909" width="18" height="13" fill="#111"/><rect x="201.0" y="909" width="3.8" height="2" fill="#c9bb34"/><rect x="215.2" y="909" width="3.8" height="2" fill="#3ec44d"/><rect x="205.0" y="918.5" width="10" height="2.5" fill="#262626"/><rect x="204.0" y="903.3" width="10" height="1.3" fill="#bbb" opacity="0.6"/><rect x="221.6" y="909" width="18" height="13" fill="#111"/><rect x="221.6" y="909" width="3.8" height="2" fill="#c9bb34"/><rect x="235.79999999999998" y="909" width="3.8" height="2" fill="#3ec44d"/><rect x="225.6" y="918.5" width="10" height="2.5" fill="#262626"/><rect x="224.6" y="903.3" width="10" height="1.3" fill="#bbb" opacity="0.6"/><rect x="242.2" y="909" width="18" height="13" fill="#111"/><rect x="242.2" y="909" width="3.8" height="2" fill="#c9bb34"/><rect x="256.4" y="909" width="3.8" height="2" fill="#3ec44d"/><rect x="246.2" y="918.5" width="10" height="2.5" fill="#262626"/><rect x="245.2" y="903.3" width="10" height="1.3" fill="#bbb" opacity="0.6"/><rect x="262.8" y="909" width="18" height="13" fill="#111"/><rect x="262.8" y="909" width="3.8" height="2" fill="#c9bb34"/><rect x="277.0" y="909" width="3.8" height="2" fill="#3ec44d"/><rect x="266.8" y="918.5" width="10" height="2.5" fill="#262626"/><rect x="265.8" y="903.3" width="10" height="1.3" fill="#bbb" opacity="0.6"/><rect x="283.4" y="909" width="18" height="13" fill="#111"/><rect x="283.4" y="909" width="3.8" height="2" fill="#c9bb34"/><rect x="297.59999999999997" y="909" width="3.8" height="2" fill="#3ec44d"/><rect x="287.4" y="918.5" width="10" height="2.5" fill="#262626"/><rect x="286.4" y="903.3" width="10" height="1.3" fill="#bbb" opacity="0.6"/></g><g transform="translate(421.4,-0.1)"><polygon points="56.8,899.5 76,871.7 298.4,871.7 313.7,899.5" fill="url(#gsTop)"/><rect x="229.4" y="872.6" width="54.6" height="7.2" fill="#ccd6e0"/><rect x="233" y="874" width="22" height="1.2" fill="#8d959c"/><rect x="258" y="874" width="22" height="1.2" fill="#8d959c"/><rect x="233" y="876.8" width="47" height="1.2" fill="#8d959c"/><text x="86" y="888.6" font-size="4.6" fill="#b0b0b0" font-family="Liberation Sans" font-weight="bold" textLength="165" lengthAdjust="spacingAndGlyphs">Gigabit Ethernet Switch</text><text x="84" y="894.6" font-size="4.4" fill="#a0a0a0" font-family="Liberation Sans" font-weight="normal" textLength="199" lengthAdjust="spacingAndGlyphs">10/100/1000Base-T To 1000Base-X</text><polygon points="56.8,899.5 313.7,899.5 313.4,931.7 57.3,931.7" fill="#2d2d2d"/><rect x="57" y="930" width="256.5" height="1.7" fill="#222"/><rect x="70.2" y="909" width="14" height="2" fill="#ccc" opacity="0.7"/><rect x="65.2" y="917.2" width="29" height="9.8" fill="#222"/><rect x="65.5" y="917.6" width="12" height="9" fill="#070707"/><circle cx="71.2" cy="920.5" r="1.6" fill="none" stroke="#eee" stroke-width="0.7"/><circle cx="85.9" cy="922.4" r="4" fill="#eee"/><rect x="100.7" y="909" width="14" height="2" fill="#ccc" opacity="0.7"/><rect x="95.7" y="917.2" width="29" height="9.8" fill="#222"/><rect x="96.0" y="917.6" width="12" height="9" fill="#070707"/><circle cx="101.7" cy="920.5" r="1.6" fill="none" stroke="#eee" stroke-width="0.7"/><circle cx="116.4" cy="922.4" r="4" fill="#eee"/><rect x="130.8" y="910" width="1.8" height="3.4" fill="#3dc44c"/><rect x="130.8" y="916" width="1.8" height="3.4" fill="#3dc44c"/><rect x="130.8" y="922" width="1.8" height="3.4" fill="#3dc44c"/><rect x="137" y="906.6" width="167" height="17.1" fill="#f3f3f3"/><rect x="139.2" y="909" width="18" height="13" fill="#111"/><rect x="139.2" y="909" width="3.8" height="2" fill="#c9bb34"/><rect x="153.39999999999998" y="909" width="3.8" height="2" fill="#3ec44d"/><rect x="143.2" y="918.5" width="10" height="2.5" fill="#262626"/><rect x="142.2" y="903.3" width="10" height="1.3" fill="#bbb" opacity="0.6"/><rect x="159.79999999999998" y="909" width="18" height="13" fill="#111"/><rect x="159.79999999999998" y="909" width="3.8" height="2" fill="#c9bb34"/><rect x="173.99999999999997" y="909" width="3.8" height="2" fill="#3ec44d"/><rect x="163.79999999999998" y="918.5" width="10" height="2.5" fill="#262626"/><rect x="162.79999999999998" y="903.3" width="10" height="1.3" fill="#bbb" opacity="0.6"/><rect x="180.39999999999998" y="909" width="18" height="13" fill="#111"/><rect x="180.39999999999998" y="909" width="3.8" height="2" fill="#c9bb34"/><rect x="194.59999999999997" y="909" width="3.8" height="2" fill="#3ec44d"/><rect x="184.39999999999998" y="918.5" width="10" height="2.5" fill="#262626"/><rect x="183.39999999999998" y="903.3" width="10" height="1.3" fill="#bbb" opacity="0.6"/><rect x="201.0" y="909" width="18" height="13" fill="#111"/><rect x="201.0" y="909" width="3.8" height="2" fill="#c9bb34"/><rect x="215.2" y="909" width="3.8" height="2" fill="#3ec44d"/><rect x="205.0" y="918.5" width="10" height="2.5" fill="#262626"/><rect x="204.0" y="903.3" width="10" height="1.3" fill="#bbb" opacity="0.6"/><rect x="221.6" y="909" width="18" height="13" fill="#111"/><rect x="221.6" y="909" width="3.8" height="2" fill="#c9bb34"/><rect x="235.79999999999998" y="909" width="3.8" height="2" fill="#3ec44d"/><rect x="225.6" y="918.5" width="10" height="2.5" fill="#262626"/><rect x="224.6" y="903.3" width="10" height="1.3" fill="#bbb" opacity="0.6"/><rect x="242.2" y="909" width="18" height="13" fill="#111"/><rect x="242.2" y="909" width="3.8" height="2" fill="#c9bb34"/><rect x="256.4" y="909" width="3.8" height="2" fill="#3ec44d"/><rect x="246.2" y="918.5" width="10" height="2.5" fill="#262626"/><rect x="245.2" y="903.3" width="10" height="1.3" fill="#bbb" opacity="0.6"/><rect x="262.8" y="909" width="18" height="13" fill="#111"/><rect x="262.8" y="909" width="3.8" height="2" fill="#c9bb34"/><rect x="277.0" y="909" width="3.8" height="2" fill="#3ec44d"/><rect x="266.8" y="918.5" width="10" height="2.5" fill="#262626"/><rect x="265.8" y="903.3" width="10" height="1.3" fill="#bbb" opacity="0.6"/><rect x="283.4" y="909" width="18" height="13" fill="#111"/><rect x="283.4" y="909" width="3.8" height="2" fill="#c9bb34"/><rect x="297.59999999999997" y="909" width="3.8" height="2" fill="#3ec44d"/><rect x="287.4" y="918.5" width="10" height="2.5" fill="#262626"/><rect x="286.4" y="903.3" width="10" height="1.3" fill="#bbb" opacity="0.6"/></g><g transform="translate(0,0)"><rect x="979.2" y="645" width="21.6" height="11" rx="1" fill="#74da80"/><rect x="979.2" y="651.5" width="21.6" height="4.5" fill="#5fc66b"/><rect x="990.0" y="647.5" width="1.5" height="4" fill="#2f7a37"/><rect x="992.6" y="647.5" width="1.5" height="4" fill="#2f7a37"/><rect x="995.2" y="647.5" width="1.5" height="4" fill="#2f7a37"/><rect x="997.8" y="647.5" width="1.5" height="4" fill="#2f7a37"/><line x1="962" y1="652" x2="964" y2="656" stroke="#a88a3a" stroke-width="1.6"/><line x1="964" y1="655.5" x2="978" y2="655.5" stroke="#c04040" stroke-width="0.6"/><polygon points="974.3,658.5 1026.6,654.5 1026.6,774.2 974.3,796.3" fill="#41444a"/><line x1="975.5" y1="660.6" x2="1025" y2="656.3" stroke="#1a1c20" stroke-width="1.15"/><line x1="975.5" y1="663.6" x2="1025" y2="658.9" stroke="#1a1c20" stroke-width="1.15"/><line x1="975.5" y1="666.6" x2="1025" y2="661.5" stroke="#1a1c20" stroke-width="1.15"/><line x1="975.5" y1="669.6" x2="1025" y2="664.1" stroke="#1a1c20" stroke-width="1.15"/><line x1="975.5" y1="672.6" x2="1025" y2="666.7" stroke="#1a1c20" stroke-width="1.15"/><line x1="975.5" y1="675.6" x2="1025" y2="669.3" stroke="#1a1c20" stroke-width="1.15"/><line x1="975.5" y1="678.6" x2="1025" y2="671.9" stroke="#1a1c20" stroke-width="1.15"/><line x1="975.5" y1="681.6" x2="1025" y2="674.5" stroke="#1a1c20" stroke-width="1.15"/><line x1="975.5" y1="684.6" x2="1025" y2="677.1" stroke="#1a1c20" stroke-width="1.15"/><line x1="975.5" y1="687.6" x2="1025" y2="679.7" stroke="#1a1c20" stroke-width="1.15"/><line x1="975.5" y1="690.6" x2="1025" y2="682.3" stroke="#1a1c20" stroke-width="1.15"/><line x1="975.5" y1="693.5" x2="1025" y2="684.9" stroke="#1a1c20" stroke-width="1.15"/><line x1="975.5" y1="696.5" x2="1025" y2="687.5" stroke="#1a1c20" stroke-width="1.15"/><line x1="975.5" y1="699.5" x2="1025" y2="690.1" stroke="#1a1c20" stroke-width="1.15"/><line x1="975.5" y1="702.5" x2="1025" y2="692.8" stroke="#1a1c20" stroke-width="1.15"/><line x1="975.5" y1="705.5" x2="1025" y2="695.4" stroke="#1a1c20" stroke-width="1.15"/><line x1="975.5" y1="708.5" x2="1025" y2="698.0" stroke="#1a1c20" stroke-width="1.15"/><line x1="975.5" y1="711.5" x2="1025" y2="700.6" stroke="#1a1c20" stroke-width="1.15"/><line x1="975.5" y1="714.5" x2="1025" y2="703.2" stroke="#1a1c20" stroke-width="1.15"/><line x1="975.5" y1="717.5" x2="1025" y2="705.8" stroke="#1a1c20" stroke-width="1.15"/><line x1="975.5" y1="720.5" x2="1025" y2="708.4" stroke="#1a1c20" stroke-width="1.15"/><line x1="975.5" y1="723.5" x2="1025" y2="711.0" stroke="#1a1c20" stroke-width="1.15"/><line x1="975.5" y1="726.5" x2="1025" y2="713.6" stroke="#1a1c20" stroke-width="1.15"/><line x1="975.5" y1="729.5" x2="1025" y2="716.2" stroke="#1a1c20" stroke-width="1.15"/><line x1="975.5" y1="732.5" x2="1025" y2="718.8" stroke="#1a1c20" stroke-width="1.15"/><line x1="975.5" y1="735.5" x2="1025" y2="721.4" stroke="#1a1c20" stroke-width="1.15"/><line x1="975.5" y1="738.5" x2="1025" y2="724.0" stroke="#1a1c20" stroke-width="1.15"/><line x1="975.5" y1="741.5" x2="1025" y2="726.6" stroke="#1a1c20" stroke-width="1.15"/><line x1="975.5" y1="744.5" x2="1025" y2="729.2" stroke="#1a1c20" stroke-width="1.15"/><line x1="975.5" y1="747.5" x2="1025" y2="731.8" stroke="#1a1c20" stroke-width="1.15"/><line x1="975.5" y1="750.5" x2="1025" y2="734.4" stroke="#1a1c20" stroke-width="1.15"/><line x1="975.5" y1="753.5" x2="1025" y2="737.0" stroke="#1a1c20" stroke-width="1.15"/><line x1="975.5" y1="756.5" x2="1025" y2="739.6" stroke="#1a1c20" stroke-width="1.15"/><line x1="975.5" y1="759.5" x2="1025" y2="742.2" stroke="#1a1c20" stroke-width="1.15"/><line x1="975.5" y1="762.4" x2="1025" y2="744.8" stroke="#1a1c20" stroke-width="1.15"/><line x1="975.5" y1="765.4" x2="1025" y2="747.4" stroke="#1a1c20" stroke-width="1.15"/><line x1="975.5" y1="768.4" x2="1025" y2="750.0" stroke="#1a1c20" stroke-width="1.15"/><line x1="975.5" y1="771.4" x2="1025" y2="752.6" stroke="#1a1c20" stroke-width="1.15"/><line x1="975.5" y1="774.4" x2="1025" y2="755.2" stroke="#1a1c20" stroke-width="1.15"/><line x1="975.5" y1="777.4" x2="1025" y2="757.8" stroke="#1a1c20" stroke-width="1.15"/><line x1="975.5" y1="780.4" x2="1025" y2="760.4" stroke="#1a1c20" stroke-width="1.15"/><line x1="975.5" y1="783.4" x2="1025" y2="763.0" stroke="#1a1c20" stroke-width="1.15"/><line x1="975.5" y1="786.4" x2="1025" y2="765.6" stroke="#1a1c20" stroke-width="1.15"/><line x1="975.5" y1="789.4" x2="1025" y2="768.2" stroke="#1a1c20" stroke-width="1.15"/><line x1="975.5" y1="792.4" x2="1025" y2="770.8" stroke="#1a1c20" stroke-width="1.15"/><line x1="975.5" y1="795.4" x2="1025" y2="773.4" stroke="#1a1c20" stroke-width="1.15"/><line x1="1026.6" y1="655" x2="1026.6" y2="774" stroke="#4a4d52" stroke-width="0.8"/><rect x="937.6" y="657.2" width="36.7" height="139.1" rx="2.5" fill="#3b3e44"/><rect x="937.6" y="657.2" width="2" height="139" fill="#2e3136"/><rect x="944.8" y="665" width="2" height="1" fill="#3fb3ad"/><rect x="945.0" y="667.5" width="1.3" height="1.3" fill="#2a6e6a"/><rect x="948.5999999999999" y="665" width="2" height="1" fill="#3fb3ad"/><rect x="948.8" y="667.5" width="1.3" height="1.3" fill="#2a6e6a"/><rect x="952.4" y="665" width="2" height="1" fill="#3fb3ad"/><rect x="952.6" y="667.5" width="1.3" height="1.3" fill="#2a6e6a"/><rect x="956.1999999999999" y="665" width="2" height="1" fill="#3fb3ad"/><rect x="956.4" y="667.5" width="1.3" height="1.3" fill="#2a6e6a"/><rect x="946" y="670.8" width="8.3" height="13.3" fill="#0e0f10" stroke="#6a6d72" stroke-width="0.5"/><rect x="947.6" y="673.8" width="0.9" height="7" fill="#aaa"/><rect x="941.7" y="675.8" width="2.6" height="1.2" fill="#3fb3ad"/><rect x="946" y="687.4" width="8.3" height="13.3" fill="#0e0f10" stroke="#6a6d72" stroke-width="0.5"/><rect x="947.6" y="690.4" width="0.9" height="7" fill="#aaa"/><rect x="941.7" y="692.4" width="2.6" height="1.2" fill="#3fb3ad"/><rect x="946" y="702.8" width="8.3" height="13.3" fill="#0e0f10" stroke="#6a6d72" stroke-width="0.5"/><rect x="947.6" y="705.8" width="0.9" height="7" fill="#aaa"/><rect x="941.7" y="707.8" width="2.6" height="1.2" fill="#3fb3ad"/><rect x="946" y="718.2" width="8.3" height="13.3" fill="#0e0f10" stroke="#6a6d72" stroke-width="0.5"/><rect x="947.6" y="721.2" width="0.9" height="7" fill="#aaa"/><rect x="941.7" y="723.2" width="2.6" height="1.2" fill="#3fb3ad"/><rect x="946.75" y="734" width="20.25" height="55.75" fill="#f4f4f4"/><path d="M949.3,735.5 H955 V747.0 H949.3 V744.7 H947.6 V738.1 H949.3 Z" fill="#0c0c0c"/><path d="M958,735.9 H964.3 V738.3 H966.2 V744.9 H964.3 V747.3 H958 Z" fill="#0c0c0c"/><rect x="959" y="737.5" width="0.8" height="7.5" fill="#444"/><rect x="941.8" y="738.0" width="2.4" height="0.9" fill="#3fb3ad"/><rect x="941.8" y="742.0" width="2.4" height="0.9" fill="#3fb3ad"/><path d="M949.3,748.95 H955 V760.45 H949.3 V758.1500000000001 H947.6 V751.5500000000001 H949.3 Z" fill="#0c0c0c"/><path d="M958,749.35 H964.3 V751.75 H966.2 V758.35 H964.3 V760.75 H958 Z" fill="#0c0c0c"/><rect x="959" y="750.95" width="0.8" height="7.5" fill="#444"/><rect x="941.8" y="751.45" width="2.4" height="0.9" fill="#3fb3ad"/><rect x="941.8" y="755.45" width="2.4" height="0.9" fill="#3fb3ad"/><path d="M949.3,762.4 H955 V773.9 H949.3 V771.6 H947.6 V765.0 H949.3 Z" fill="#0c0c0c"/><path d="M958,762.8 H964.3 V765.1999999999999 H966.2 V771.8 H964.3 V774.1999999999999 H958 Z" fill="#0c0c0c"/><rect x="959" y="764.4" width="0.8" height="7.5" fill="#444"/><rect x="941.8" y="764.9" width="2.4" height="0.9" fill="#3fb3ad"/><rect x="941.8" y="768.9" width="2.4" height="0.9" fill="#3fb3ad"/><path d="M949.3,775.85 H955 V787.35 H949.3 V785.0500000000001 H947.6 V778.45 H949.3 Z" fill="#0c0c0c"/><path d="M958,776.25 H964.3 V778.65 H966.2 V785.25 H964.3 V787.65 H958 Z" fill="#0c0c0c"/><rect x="959" y="777.85" width="0.8" height="7.5" fill="#444"/><rect x="941.8" y="778.35" width="2.4" height="0.9" fill="#3fb3ad"/><rect x="941.8" y="782.35" width="2.4" height="0.9" fill="#3fb3ad"/><rect x="941" y="789" width="31" height="3.5" fill="#2bb3ad"/><rect x="941" y="789" width="3" height="3.5" fill="#e8832a"/></g><g transform="translate(375.1,0)"><rect x="979.2" y="645" width="21.6" height="11" rx="1" fill="#74da80"/><rect x="979.2" y="651.5" width="21.6" height="4.5" fill="#5fc66b"/><rect x="990.0" y="647.5" width="1.5" height="4" fill="#2f7a37"/><rect x="992.6" y="647.5" width="1.5" height="4" fill="#2f7a37"/><rect x="995.2" y="647.5" width="1.5" height="4" fill="#2f7a37"/><rect x="997.8" y="647.5" width="1.5" height="4" fill="#2f7a37"/><line x1="962" y1="652" x2="964" y2="656" stroke="#a88a3a" stroke-width="1.6"/><line x1="964" y1="655.5" x2="978" y2="655.5" stroke="#c04040" stroke-width="0.6"/><polygon points="974.3,658.5 1026.6,654.5 1026.6,774.2 974.3,796.3" fill="#41444a"/><line x1="975.5" y1="660.6" x2="1025" y2="656.3" stroke="#1a1c20" stroke-width="1.15"/><line x1="975.5" y1="663.6" x2="1025" y2="658.9" stroke="#1a1c20" stroke-width="1.15"/><line x1="975.5" y1="666.6" x2="1025" y2="661.5" stroke="#1a1c20" stroke-width="1.15"/><line x1="975.5" y1="669.6" x2="1025" y2="664.1" stroke="#1a1c20" stroke-width="1.15"/><line x1="975.5" y1="672.6" x2="1025" y2="666.7" stroke="#1a1c20" stroke-width="1.15"/><line x1="975.5" y1="675.6" x2="1025" y2="669.3" stroke="#1a1c20" stroke-width="1.15"/><line x1="975.5" y1="678.6" x2="1025" y2="671.9" stroke="#1a1c20" stroke-width="1.15"/><line x1="975.5" y1="681.6" x2="1025" y2="674.5" stroke="#1a1c20" stroke-width="1.15"/><line x1="975.5" y1="684.6" x2="1025" y2="677.1" stroke="#1a1c20" stroke-width="1.15"/><line x1="975.5" y1="687.6" x2="1025" y2="679.7" stroke="#1a1c20" stroke-width="1.15"/><line x1="975.5" y1="690.6" x2="1025" y2="682.3" stroke="#1a1c20" stroke-width="1.15"/><line x1="975.5" y1="693.5" x2="1025" y2="684.9" stroke="#1a1c20" stroke-width="1.15"/><line x1="975.5" y1="696.5" x2="1025" y2="687.5" stroke="#1a1c20" stroke-width="1.15"/><line x1="975.5" y1="699.5" x2="1025" y2="690.1" stroke="#1a1c20" stroke-width="1.15"/><line x1="975.5" y1="702.5" x2="1025" y2="692.8" stroke="#1a1c20" stroke-width="1.15"/><line x1="975.5" y1="705.5" x2="1025" y2="695.4" stroke="#1a1c20" stroke-width="1.15"/><line x1="975.5" y1="708.5" x2="1025" y2="698.0" stroke="#1a1c20" stroke-width="1.15"/><line x1="975.5" y1="711.5" x2="1025" y2="700.6" stroke="#1a1c20" stroke-width="1.15"/><line x1="975.5" y1="714.5" x2="1025" y2="703.2" stroke="#1a1c20" stroke-width="1.15"/><line x1="975.5" y1="717.5" x2="1025" y2="705.8" stroke="#1a1c20" stroke-width="1.15"/><line x1="975.5" y1="720.5" x2="1025" y2="708.4" stroke="#1a1c20" stroke-width="1.15"/><line x1="975.5" y1="723.5" x2="1025" y2="711.0" stroke="#1a1c20" stroke-width="1.15"/><line x1="975.5" y1="726.5" x2="1025" y2="713.6" stroke="#1a1c20" stroke-width="1.15"/><line x1="975.5" y1="729.5" x2="1025" y2="716.2" stroke="#1a1c20" stroke-width="1.15"/><line x1="975.5" y1="732.5" x2="1025" y2="718.8" stroke="#1a1c20" stroke-width="1.15"/><line x1="975.5" y1="735.5" x2="1025" y2="721.4" stroke="#1a1c20" stroke-width="1.15"/><line x1="975.5" y1="738.5" x2="1025" y2="724.0" stroke="#1a1c20" stroke-width="1.15"/><line x1="975.5" y1="741.5" x2="1025" y2="726.6" stroke="#1a1c20" stroke-width="1.15"/><line x1="975.5" y1="744.5" x2="1025" y2="729.2" stroke="#1a1c20" stroke-width="1.15"/><line x1="975.5" y1="747.5" x2="1025" y2="731.8" stroke="#1a1c20" stroke-width="1.15"/><line x1="975.5" y1="750.5" x2="1025" y2="734.4" stroke="#1a1c20" stroke-width="1.15"/><line x1="975.5" y1="753.5" x2="1025" y2="737.0" stroke="#1a1c20" stroke-width="1.15"/><line x1="975.5" y1="756.5" x2="1025" y2="739.6" stroke="#1a1c20" stroke-width="1.15"/><line x1="975.5" y1="759.5" x2="1025" y2="742.2" stroke="#1a1c20" stroke-width="1.15"/><line x1="975.5" y1="762.4" x2="1025" y2="744.8" stroke="#1a1c20" stroke-width="1.15"/><line x1="975.5" y1="765.4" x2="1025" y2="747.4" stroke="#1a1c20" stroke-width="1.15"/><line x1="975.5" y1="768.4" x2="1025" y2="750.0" stroke="#1a1c20" stroke-width="1.15"/><line x1="975.5" y1="771.4" x2="1025" y2="752.6" stroke="#1a1c20" stroke-width="1.15"/><line x1="975.5" y1="774.4" x2="1025" y2="755.2" stroke="#1a1c20" stroke-width="1.15"/><line x1="975.5" y1="777.4" x2="1025" y2="757.8" stroke="#1a1c20" stroke-width="1.15"/><line x1="975.5" y1="780.4" x2="1025" y2="760.4" stroke="#1a1c20" stroke-width="1.15"/><line x1="975.5" y1="783.4" x2="1025" y2="763.0" stroke="#1a1c20" stroke-width="1.15"/><line x1="975.5" y1="786.4" x2="1025" y2="765.6" stroke="#1a1c20" stroke-width="1.15"/><line x1="975.5" y1="789.4" x2="1025" y2="768.2" stroke="#1a1c20" stroke-width="1.15"/><line x1="975.5" y1="792.4" x2="1025" y2="770.8" stroke="#1a1c20" stroke-width="1.15"/><line x1="975.5" y1="795.4" x2="1025" y2="773.4" stroke="#1a1c20" stroke-width="1.15"/><line x1="1026.6" y1="655" x2="1026.6" y2="774" stroke="#4a4d52" stroke-width="0.8"/><rect x="937.6" y="657.2" width="36.7" height="139.1" rx="2.5" fill="#3b3e44"/><rect x="937.6" y="657.2" width="2" height="139" fill="#2e3136"/><rect x="944.8" y="665" width="2" height="1" fill="#3fb3ad"/><rect x="945.0" y="667.5" width="1.3" height="1.3" fill="#2a6e6a"/><rect x="948.5999999999999" y="665" width="2" height="1" fill="#3fb3ad"/><rect x="948.8" y="667.5" width="1.3" height="1.3" fill="#2a6e6a"/><rect x="952.4" y="665" width="2" height="1" fill="#3fb3ad"/><rect x="952.6" y="667.5" width="1.3" height="1.3" fill="#2a6e6a"/><rect x="956.1999999999999" y="665" width="2" height="1" fill="#3fb3ad"/><rect x="956.4" y="667.5" width="1.3" height="1.3" fill="#2a6e6a"/><rect x="946" y="670.8" width="8.3" height="13.3" fill="#0e0f10" stroke="#6a6d72" stroke-width="0.5"/><rect x="947.6" y="673.8" width="0.9" height="7" fill="#aaa"/><rect x="941.7" y="675.8" width="2.6" height="1.2" fill="#3fb3ad"/><rect x="946" y="687.4" width="8.3" height="13.3" fill="#0e0f10" stroke="#6a6d72" stroke-width="0.5"/><rect x="947.6" y="690.4" width="0.9" height="7" fill="#aaa"/><rect x="941.7" y="692.4" width="2.6" height="1.2" fill="#3fb3ad"/><rect x="946" y="702.8" width="8.3" height="13.3" fill="#0e0f10" stroke="#6a6d72" stroke-width="0.5"/><rect x="947.6" y="705.8" width="0.9" height="7" fill="#aaa"/><rect x="941.7" y="707.8" width="2.6" height="1.2" fill="#3fb3ad"/><rect x="946" y="718.2" width="8.3" height="13.3" fill="#0e0f10" stroke="#6a6d72" stroke-width="0.5"/><rect x="947.6" y="721.2" width="0.9" height="7" fill="#aaa"/><rect x="941.7" y="723.2" width="2.6" height="1.2" fill="#3fb3ad"/><rect x="946.75" y="734" width="20.25" height="55.75" fill="#f4f4f4"/><path d="M949.3,735.5 H955 V747.0 H949.3 V744.7 H947.6 V738.1 H949.3 Z" fill="#0c0c0c"/><path d="M958,735.9 H964.3 V738.3 H966.2 V744.9 H964.3 V747.3 H958 Z" fill="#0c0c0c"/><rect x="959" y="737.5" width="0.8" height="7.5" fill="#444"/><rect x="941.8" y="738.0" width="2.4" height="0.9" fill="#3fb3ad"/><rect x="941.8" y="742.0" width="2.4" height="0.9" fill="#3fb3ad"/><path d="M949.3,748.95 H955 V760.45 H949.3 V758.1500000000001 H947.6 V751.5500000000001 H949.3 Z" fill="#0c0c0c"/><path d="M958,749.35 H964.3 V751.75 H966.2 V758.35 H964.3 V760.75 H958 Z" fill="#0c0c0c"/><rect x="959" y="750.95" width="0.8" height="7.5" fill="#444"/><rect x="941.8" y="751.45" width="2.4" height="0.9" fill="#3fb3ad"/><rect x="941.8" y="755.45" width="2.4" height="0.9" fill="#3fb3ad"/><path d="M949.3,762.4 H955 V773.9 H949.3 V771.6 H947.6 V765.0 H949.3 Z" fill="#0c0c0c"/><path d="M958,762.8 H964.3 V765.1999999999999 H966.2 V771.8 H964.3 V774.1999999999999 H958 Z" fill="#0c0c0c"/><rect x="959" y="764.4" width="0.8" height="7.5" fill="#444"/><rect x="941.8" y="764.9" width="2.4" height="0.9" fill="#3fb3ad"/><rect x="941.8" y="768.9" width="2.4" height="0.9" fill="#3fb3ad"/><path d="M949.3,775.85 H955 V787.35 H949.3 V785.0500000000001 H947.6 V778.45 H949.3 Z" fill="#0c0c0c"/><path d="M958,776.25 H964.3 V778.65 H966.2 V785.25 H964.3 V787.65 H958 Z" fill="#0c0c0c"/><rect x="959" y="777.85" width="0.8" height="7.5" fill="#444"/><rect x="941.8" y="778.35" width="2.4" height="0.9" fill="#3fb3ad"/><rect x="941.8" y="782.35" width="2.4" height="0.9" fill="#3fb3ad"/><rect x="941" y="789" width="31" height="3.5" fill="#2bb3ad"/><rect x="941" y="789" width="3" height="3.5" fill="#e8832a"/></g><g transform="translate(0,0)"><rect x="980.8" y="832" width="19.6" height="9" rx="1" fill="#74da80"/><rect x="980.8" y="837" width="19.6" height="4" fill="#5fc66b"/><rect x="990.0" y="834" width="1.4" height="4" fill="#2f7a37"/><rect x="992.4" y="834" width="1.4" height="4" fill="#2f7a37"/><rect x="994.8" y="834" width="1.4" height="4" fill="#2f7a37"/><rect x="997.2" y="834" width="1.4" height="4" fill="#2f7a37"/><line x1="1009" y1="838" x2="1016" y2="835.5" stroke="#b08c3c" stroke-width="1.6"/><polygon points="975.7,841.5 1033.4,839 1033.4,964 975.7,983" fill="#2c2e33"/><line x1="984.0" y1="841" x2="984.0" y2="980.3" stroke="#0e0f11" stroke-width="1.4"/><line x1="985.1" y1="841" x2="985.1" y2="980.3" stroke="#505256" stroke-width="0.6"/><line x1="986.8" y1="841" x2="986.8" y2="979.4" stroke="#0e0f11" stroke-width="1.4"/><line x1="987.9" y1="841" x2="987.9" y2="979.4" stroke="#505256" stroke-width="0.6"/><line x1="989.5" y1="841" x2="989.5" y2="978.5" stroke="#0e0f11" stroke-width="1.4"/><line x1="990.6" y1="841" x2="990.6" y2="978.5" stroke="#505256" stroke-width="0.6"/><line x1="992.2" y1="841" x2="992.2" y2="977.6" stroke="#0e0f11" stroke-width="1.4"/><line x1="993.4" y1="841" x2="993.4" y2="977.6" stroke="#505256" stroke-width="0.6"/><line x1="995.0" y1="841" x2="995.0" y2="976.6" stroke="#0e0f11" stroke-width="1.4"/><line x1="996.1" y1="841" x2="996.1" y2="976.6" stroke="#505256" stroke-width="0.6"/><line x1="997.8" y1="841" x2="997.8" y2="975.7" stroke="#0e0f11" stroke-width="1.4"/><line x1="998.9" y1="841" x2="998.9" y2="975.7" stroke="#505256" stroke-width="0.6"/><line x1="1000.5" y1="841" x2="1000.5" y2="974.8" stroke="#0e0f11" stroke-width="1.4"/><line x1="1001.6" y1="841" x2="1001.6" y2="974.8" stroke="#505256" stroke-width="0.6"/><line x1="1003.2" y1="841" x2="1003.2" y2="973.9" stroke="#0e0f11" stroke-width="1.4"/><line x1="1004.4" y1="841" x2="1004.4" y2="973.9" stroke="#505256" stroke-width="0.6"/><line x1="1006.0" y1="841" x2="1006.0" y2="973.0" stroke="#0e0f11" stroke-width="1.4"/><line x1="1007.1" y1="841" x2="1007.1" y2="973.0" stroke="#505256" stroke-width="0.6"/><line x1="1008.8" y1="841" x2="1008.8" y2="972.1" stroke="#0e0f11" stroke-width="1.4"/><line x1="1009.9" y1="841" x2="1009.9" y2="972.1" stroke="#505256" stroke-width="0.6"/><line x1="1011.5" y1="841" x2="1011.5" y2="971.2" stroke="#0e0f11" stroke-width="1.4"/><line x1="1012.6" y1="841" x2="1012.6" y2="971.2" stroke="#505256" stroke-width="0.6"/><line x1="1014.2" y1="841" x2="1014.2" y2="970.3" stroke="#0e0f11" stroke-width="1.4"/><line x1="1015.4" y1="841" x2="1015.4" y2="970.3" stroke="#505256" stroke-width="0.6"/><line x1="1017.0" y1="841" x2="1017.0" y2="969.4" stroke="#0e0f11" stroke-width="1.4"/><line x1="1018.1" y1="841" x2="1018.1" y2="969.4" stroke="#505256" stroke-width="0.6"/><line x1="1019.8" y1="841" x2="1019.8" y2="968.5" stroke="#0e0f11" stroke-width="1.4"/><line x1="1020.9" y1="841" x2="1020.9" y2="968.5" stroke="#505256" stroke-width="0.6"/><line x1="1022.5" y1="841" x2="1022.5" y2="967.6" stroke="#0e0f11" stroke-width="1.4"/><line x1="1023.6" y1="841" x2="1023.6" y2="967.6" stroke="#505256" stroke-width="0.6"/><line x1="1025.2" y1="841" x2="1025.2" y2="966.7" stroke="#0e0f11" stroke-width="1.4"/><line x1="1026.3" y1="841" x2="1026.3" y2="966.7" stroke="#505256" stroke-width="0.6"/><line x1="1028.0" y1="841" x2="1028.0" y2="965.8" stroke="#0e0f11" stroke-width="1.4"/><line x1="1029.1" y1="841" x2="1029.1" y2="965.8" stroke="#505256" stroke-width="0.6"/><line x1="1030.8" y1="841" x2="1030.8" y2="964.9" stroke="#0e0f11" stroke-width="1.4"/><line x1="1031.8" y1="841" x2="1031.8" y2="964.9" stroke="#505256" stroke-width="0.6"/><polygon points="975.7,841.5 983.3,841.5 983.3,981 975.7,983" fill="#1c1e21"/><rect x="937.6" y="841.2" width="38.1" height="141.8" rx="1.5" fill="#3a3d42"/><rect x="937.6" y="841.2" width="1.8" height="141" fill="#2a2c30"/><rect x="947.1" y="853.5" width="20.3" height="59" fill="#f4f4f4"/><path d="M949.6,855.0 H955.4 V867.0 H949.6 V864.6 H947.9 V857.6 H949.6 Z" fill="#0c0c0c"/><path d="M958.4,855.0 H964.6 V857.6 H966.5 V864.6 H964.6 V867.0 H958.4 Z" fill="#0c0c0c"/><rect x="947.9" y="855.0" width="1.3" height="1.8" fill="#d9cf3a"/><rect x="965.2" y="855.0" width="1.3" height="1.8" fill="#d9cf3a"/><rect x="947.9" y="865.4" width="1.3" height="1.5" fill="#3cb850"/><path d="M949.6,869.3 H955.4 V881.3 H949.6 V878.9 H947.9 V871.9 H949.6 Z" fill="#0c0c0c"/><path d="M958.4,869.3 H964.6 V871.9 H966.5 V878.9 H964.6 V881.3 H958.4 Z" fill="#0c0c0c"/><rect x="947.9" y="869.3" width="1.3" height="1.8" fill="#d9cf3a"/><rect x="965.2" y="869.3" width="1.3" height="1.8" fill="#d9cf3a"/><rect x="947.9" y="879.6999999999999" width="1.3" height="1.5" fill="#3cb850"/><path d="M949.6,883.6 H955.4 V895.6 H949.6 V893.2 H947.9 V886.2 H949.6 Z" fill="#0c0c0c"/><path d="M958.4,883.6 H964.6 V886.2 H966.5 V893.2 H964.6 V895.6 H958.4 Z" fill="#0c0c0c"/><rect x="947.9" y="883.6" width="1.3" height="1.8" fill="#d9cf3a"/><rect x="965.2" y="883.6" width="1.3" height="1.8" fill="#d9cf3a"/><rect x="947.9" y="894.0" width="1.3" height="1.5" fill="#3cb850"/><path d="M949.6,897.9 H955.4 V909.9 H949.6 V907.5 H947.9 V900.5 H949.6 Z" fill="#0c0c0c"/><path d="M958.4,897.9 H964.6 V900.5 H966.5 V907.5 H964.6 V909.9 H958.4 Z" fill="#0c0c0c"/><rect x="947.9" y="897.9" width="1.3" height="1.8" fill="#d9cf3a"/><rect x="965.2" y="897.9" width="1.3" height="1.8" fill="#d9cf3a"/><rect x="947.9" y="908.3" width="1.3" height="1.5" fill="#3cb850"/><rect x="944" y="918.9" width="10" height="23" fill="#111"/><rect x="945" y="920.9" width="6" height="7" fill="#050505" stroke="#555" stroke-width="0.4"/><circle cx="947.3" cy="936.1999999999999" r="2.7" fill="#eee"/><rect x="944" y="945" width="10" height="23" fill="#111"/><rect x="945" y="947" width="6" height="7" fill="#050505" stroke="#555" stroke-width="0.4"/><circle cx="947.3" cy="962.3" r="2.7" fill="#eee"/><rect x="943.3" y="974" width="30.5" height="3.2" fill="#2bb3ad"/><rect x="943.3" y="974" width="4.5" height="3.2" fill="#e8832a"/></g><g transform="translate(375.6,0)"><rect x="980.8" y="832" width="19.6" height="9" rx="1" fill="#74da80"/><rect x="980.8" y="837" width="19.6" height="4" fill="#5fc66b"/><rect x="990.0" y="834" width="1.4" height="4" fill="#2f7a37"/><rect x="992.4" y="834" width="1.4" height="4" fill="#2f7a37"/><rect x="994.8" y="834" width="1.4" height="4" fill="#2f7a37"/><rect x="997.2" y="834" width="1.4" height="4" fill="#2f7a37"/><line x1="1009" y1="838" x2="1016" y2="835.5" stroke="#b08c3c" stroke-width="1.6"/><polygon points="975.7,841.5 1033.4,839 1033.4,964 975.7,983" fill="#2c2e33"/><line x1="984.0" y1="841" x2="984.0" y2="980.3" stroke="#0e0f11" stroke-width="1.4"/><line x1="985.1" y1="841" x2="985.1" y2="980.3" stroke="#505256" stroke-width="0.6"/><line x1="986.8" y1="841" x2="986.8" y2="979.4" stroke="#0e0f11" stroke-width="1.4"/><line x1="987.9" y1="841" x2="987.9" y2="979.4" stroke="#505256" stroke-width="0.6"/><line x1="989.5" y1="841" x2="989.5" y2="978.5" stroke="#0e0f11" stroke-width="1.4"/><line x1="990.6" y1="841" x2="990.6" y2="978.5" stroke="#505256" stroke-width="0.6"/><line x1="992.2" y1="841" x2="992.2" y2="977.6" stroke="#0e0f11" stroke-width="1.4"/><line x1="993.4" y1="841" x2="993.4" y2="977.6" stroke="#505256" stroke-width="0.6"/><line x1="995.0" y1="841" x2="995.0" y2="976.6" stroke="#0e0f11" stroke-width="1.4"/><line x1="996.1" y1="841" x2="996.1" y2="976.6" stroke="#505256" stroke-width="0.6"/><line x1="997.8" y1="841" x2="997.8" y2="975.7" stroke="#0e0f11" stroke-width="1.4"/><line x1="998.9" y1="841" x2="998.9" y2="975.7" stroke="#505256" stroke-width="0.6"/><line x1="1000.5" y1="841" x2="1000.5" y2="974.8" stroke="#0e0f11" stroke-width="1.4"/><line x1="1001.6" y1="841" x2="1001.6" y2="974.8" stroke="#505256" stroke-width="0.6"/><line x1="1003.2" y1="841" x2="1003.2" y2="973.9" stroke="#0e0f11" stroke-width="1.4"/><line x1="1004.4" y1="841" x2="1004.4" y2="973.9" stroke="#505256" stroke-width="0.6"/><line x1="1006.0" y1="841" x2="1006.0" y2="973.0" stroke="#0e0f11" stroke-width="1.4"/><line x1="1007.1" y1="841" x2="1007.1" y2="973.0" stroke="#505256" stroke-width="0.6"/><line x1="1008.8" y1="841" x2="1008.8" y2="972.1" stroke="#0e0f11" stroke-width="1.4"/><line x1="1009.9" y1="841" x2="1009.9" y2="972.1" stroke="#505256" stroke-width="0.6"/><line x1="1011.5" y1="841" x2="1011.5" y2="971.2" stroke="#0e0f11" stroke-width="1.4"/><line x1="1012.6" y1="841" x2="1012.6" y2="971.2" stroke="#505256" stroke-width="0.6"/><line x1="1014.2" y1="841" x2="1014.2" y2="970.3" stroke="#0e0f11" stroke-width="1.4"/><line x1="1015.4" y1="841" x2="1015.4" y2="970.3" stroke="#505256" stroke-width="0.6"/><line x1="1017.0" y1="841" x2="1017.0" y2="969.4" stroke="#0e0f11" stroke-width="1.4"/><line x1="1018.1" y1="841" x2="1018.1" y2="969.4" stroke="#505256" stroke-width="0.6"/><line x1="1019.8" y1="841" x2="1019.8" y2="968.5" stroke="#0e0f11" stroke-width="1.4"/><line x1="1020.9" y1="841" x2="1020.9" y2="968.5" stroke="#505256" stroke-width="0.6"/><line x1="1022.5" y1="841" x2="1022.5" y2="967.6" stroke="#0e0f11" stroke-width="1.4"/><line x1="1023.6" y1="841" x2="1023.6" y2="967.6" stroke="#505256" stroke-width="0.6"/><line x1="1025.2" y1="841" x2="1025.2" y2="966.7" stroke="#0e0f11" stroke-width="1.4"/><line x1="1026.3" y1="841" x2="1026.3" y2="966.7" stroke="#505256" stroke-width="0.6"/><line x1="1028.0" y1="841" x2="1028.0" y2="965.8" stroke="#0e0f11" stroke-width="1.4"/><line x1="1029.1" y1="841" x2="1029.1" y2="965.8" stroke="#505256" stroke-width="0.6"/><line x1="1030.8" y1="841" x2="1030.8" y2="964.9" stroke="#0e0f11" stroke-width="1.4"/><line x1="1031.8" y1="841" x2="1031.8" y2="964.9" stroke="#505256" stroke-width="0.6"/><polygon points="975.7,841.5 983.3,841.5 983.3,981 975.7,983" fill="#1c1e21"/><rect x="937.6" y="841.2" width="38.1" height="141.8" rx="1.5" fill="#3a3d42"/><rect x="937.6" y="841.2" width="1.8" height="141" fill="#2a2c30"/><rect x="947.1" y="853.5" width="20.3" height="59" fill="#f4f4f4"/><path d="M949.6,855.0 H955.4 V867.0 H949.6 V864.6 H947.9 V857.6 H949.6 Z" fill="#0c0c0c"/><path d="M958.4,855.0 H964.6 V857.6 H966.5 V864.6 H964.6 V867.0 H958.4 Z" fill="#0c0c0c"/><rect x="947.9" y="855.0" width="1.3" height="1.8" fill="#d9cf3a"/><rect x="965.2" y="855.0" width="1.3" height="1.8" fill="#d9cf3a"/><rect x="947.9" y="865.4" width="1.3" height="1.5" fill="#3cb850"/><path d="M949.6,869.3 H955.4 V881.3 H949.6 V878.9 H947.9 V871.9 H949.6 Z" fill="#0c0c0c"/><path d="M958.4,869.3 H964.6 V871.9 H966.5 V878.9 H964.6 V881.3 H958.4 Z" fill="#0c0c0c"/><rect x="947.9" y="869.3" width="1.3" height="1.8" fill="#d9cf3a"/><rect x="965.2" y="869.3" width="1.3" height="1.8" fill="#d9cf3a"/><rect x="947.9" y="879.6999999999999" width="1.3" height="1.5" fill="#3cb850"/><path d="M949.6,883.6 H955.4 V895.6 H949.6 V893.2 H947.9 V886.2 H949.6 Z" fill="#0c0c0c"/><path d="M958.4,883.6 H964.6 V886.2 H966.5 V893.2 H964.6 V895.6 H958.4 Z" fill="#0c0c0c"/><rect x="947.9" y="883.6" width="1.3" height="1.8" fill="#d9cf3a"/><rect x="965.2" y="883.6" width="1.3" height="1.8" fill="#d9cf3a"/><rect x="947.9" y="894.0" width="1.3" height="1.5" fill="#3cb850"/><path d="M949.6,897.9 H955.4 V909.9 H949.6 V907.5 H947.9 V900.5 H949.6 Z" fill="#0c0c0c"/><path d="M958.4,897.9 H964.6 V900.5 H966.5 V907.5 H964.6 V909.9 H958.4 Z" fill="#0c0c0c"/><rect x="947.9" y="897.9" width="1.3" height="1.8" fill="#d9cf3a"/><rect x="965.2" y="897.9" width="1.3" height="1.8" fill="#d9cf3a"/><rect x="947.9" y="908.3" width="1.3" height="1.5" fill="#3cb850"/><rect x="944" y="918.9" width="10" height="23" fill="#111"/><rect x="945" y="920.9" width="6" height="7" fill="#050505" stroke="#555" stroke-width="0.4"/><circle cx="947.3" cy="936.1999999999999" r="2.7" fill="#eee"/><rect x="944" y="945" width="10" height="23" fill="#111"/><rect x="945" y="947" width="6" height="7" fill="#050505" stroke="#555" stroke-width="0.4"/><circle cx="947.3" cy="962.3" r="2.7" fill="#eee"/><rect x="943.3" y="974" width="30.5" height="3.2" fill="#2bb3ad"/><rect x="943.3" y="974" width="4.5" height="3.2" fill="#e8832a"/></g><rect x="372" y="139" width="197" height="110" fill="url(#dbBg)"/><rect x="383" y="144" width="30.7" height="26" fill="#08307a" fill-opacity="0.6" stroke="#2a6cc8" stroke-width="0.5"/><rect x="383" y="175" width="30.7" height="31" fill="#08307a" fill-opacity="0.6" stroke="#2a6cc8" stroke-width="0.5"/><rect x="383" y="221" width="30.7" height="23" fill="#08307a" fill-opacity="0.6" stroke="#2a6cc8" stroke-width="0.5"/><rect x="523" y="144" width="39" height="16" fill="#08307a" fill-opacity="0.6" stroke="#2a6cc8" stroke-width="0.5"/><rect x="523" y="164" width="39" height="14" fill="#08307a" fill-opacity="0.6" stroke="#2a6cc8" stroke-width="0.5"/><rect x="523" y="182.5" width="39" height="18.5" fill="#08307a" fill-opacity="0.6" stroke="#2a6cc8" stroke-width="0.5"/><rect x="523" y="205" width="39" height="39" fill="#08307a" fill-opacity="0.6" stroke="#2a6cc8" stroke-width="0.5"/><rect x="385.0" y="147" width="0.8" height="14" fill="#2a6ad0"/><rect x="387.8" y="154" width="0.8" height="7" fill="#2a6ad0"/><rect x="390.6" y="152" width="0.8" height="9" fill="#2a6ad0"/><rect x="393.4" y="150" width="0.8" height="11" fill="#2a6ad0"/><rect x="396.2" y="148" width="0.8" height="13" fill="#2a6ad0"/><rect x="399.0" y="155" width="0.8" height="6" fill="#2a6ad0"/><rect x="401.8" y="153" width="0.8" height="8" fill="#2a6ad0"/><rect x="404.6" y="151" width="0.8" height="10" fill="#2a6ad0"/><rect x="407.4" y="149" width="0.8" height="12" fill="#2a6ad0"/><rect x="410.2" y="147" width="0.8" height="14" fill="#2a6ad0"/><rect x="385" y="162.0" width="26" height="0.8" fill="#4a9af0"/><rect x="385" y="164.2" width="26" height="0.8" fill="#4a9af0"/><rect x="385" y="166.4" width="26" height="0.8" fill="#4a9af0"/><circle cx="398.3" cy="190.5" r="10" fill="#0b4cb0" stroke="#3aa0ff" stroke-width="1.8" stroke-dasharray="0.8 0.8"/><text x="398.3" y="192.8" font-size="6" text-anchor="middle" fill="#e0f0ff" font-family="Liberation Sans">75%</text><rect x="384" y="209" width="28" height="4" rx="2" fill="none" stroke="#2f7ad8" stroke-width="0.6"/><circle cx="387.0" cy="211" r="0.7" fill="#7ac0ff"/><circle cx="391.5" cy="211" r="0.7" fill="#7ac0ff"/><circle cx="396.0" cy="211" r="0.7" fill="#7ac0ff"/><circle cx="400.5" cy="211" r="0.7" fill="#7ac0ff"/><circle cx="405.0" cy="211" r="0.7" fill="#7ac0ff"/><circle cx="409.5" cy="211" r="0.7" fill="#7ac0ff"/><rect x="387.0" y="239" width="1.3" height="3" fill="#2ad0f0"/><rect x="389.9" y="236" width="1.3" height="6" fill="#2ad0f0"/><rect x="392.8" y="238" width="1.3" height="4" fill="#2ad0f0"/><rect x="395.7" y="230" width="1.3" height="12" fill="#2ad0f0"/><rect x="398.6" y="234" width="1.3" height="8" fill="#2ad0f0"/><rect x="401.5" y="237" width="1.3" height="5" fill="#2ad0f0"/><rect x="404.4" y="232" width="1.3" height="10" fill="#2ad0f0"/><rect x="407.3" y="238" width="1.3" height="4" fill="#2ad0f0"/><rect x="410.2" y="235" width="1.3" height="7" fill="#2ad0f0"/><rect x="426" y="145.4" width="43" height="15.6" rx="4" fill="#0c3c98" stroke="#2a7ee0" stroke-width="0.6"/><rect x="430" y="148.5" width="22" height="0.7" fill="#8fd0ff"/><rect x="430" y="151.5" width="28" height="0.7" fill="#8fd0ff"/><rect x="430" y="154.5" width="22" height="0.7" fill="#8fd0ff"/><rect x="430" y="157.5" width="28" height="0.7" fill="#8fd0ff"/><rect x="440" y="143" width="14" height="1" fill="#3a8ae8"/><path d="M481,147 A6.3,6.3 0 1,1 481,160" fill="none" stroke="#3ab8ff" stroke-width="1"/><text x="480" y="155" font-size="3.8" text-anchor="middle" fill="#e8f8ff" font-family="Liberation Sans">75%</text><path d="M495,147 A6.3,6.3 0 1,1 495,160" fill="none" stroke="#3ab8ff" stroke-width="1"/><text x="494" y="155" font-size="3.8" text-anchor="middle" fill="#e8f8ff" font-family="Liberation Sans">60%</text><path d="M511,147 A6.3,6.3 0 1,1 511,160" fill="none" stroke="#3ab8ff" stroke-width="1"/><text x="510" y="155" font-size="3.8" text-anchor="middle" fill="#e8f8ff" font-family="Liberation Sans">50%</text><rect x="431.5" y="164" width="77.5" height="1.8" fill="#2a80e0" opacity="0.8"/><circle cx="469.3" cy="199" r="32" fill="url(#dbGlow)"/><circle cx="469.3" cy="199.7" r="20" fill="none" stroke="#2ab8f8" stroke-width="1.6"/><circle cx="469.3" cy="199.7" r="14.5" fill="#0a50b8" stroke="#7ae8ff" stroke-width="1.1"/><circle cx="469.3" cy="199.7" r="10" fill="none" stroke="#57d2ff" stroke-width="0.7" stroke-dasharray="1 1"/><path d="M461,180.5 A20,20 0 0,1 477,180.5" fill="none" stroke="#5af0ff" stroke-width="4"/><path d="M481,184 A20,20 0 0,1 488,193" fill="none" stroke="#5af0ff" stroke-width="4"/><path d="M452,211 A20,20 0 0,0 462,218" fill="none" stroke="#3ad8ff" stroke-width="3" opacity="0.8"/><path d="M486,208 A23,23 0 0,1 474,222" fill="none" stroke="#3ab0f0" stroke-width="2.5" opacity="0.7"/><text x="469.3" y="201.8" font-size="6" text-anchor="middle" fill="#e8f8ff" font-family="Liberation Sans">80%</text><ellipse cx="469.3" cy="233" rx="34" ry="8" fill="#0a5ad0" opacity="0.5"/><ellipse cx="469.3" cy="232" rx="24" ry="5.5" fill="none" stroke="#4ad8ff" stroke-width="1.1" opacity="0.9"/><ellipse cx="469.3" cy="229" rx="16" ry="3.5" fill="none" stroke="#8aeaff" stroke-width="0.8" opacity="0.8"/><rect x="422" y="209" width="22" height="9" rx="1" fill="#0a3a90" opacity="0.6"/><rect x="498" y="173" width="18" height="10" rx="1" fill="#0a3a90" opacity="0.6"/><path d="M444,213 L455,213 M488,176 L498,176" stroke="#3a8ae8" stroke-width="0.5"/><rect x="526" y="147" width="33" height="9" rx="1.5" fill="#0d4ca8" stroke="#3ab8f0" stroke-width="0.7"/><rect x="528" y="152.5" width="13" height="1.5" fill="#36c8c8"/><rect x="543" y="152.5" width="13" height="1.5" fill="#36c8c8"/><rect x="526" y="167" width="33" height="9" rx="1.5" fill="#0d4ca8" stroke="#3ab8f0" stroke-width="0.7"/><rect x="528" y="172.5" width="13" height="1.5" fill="#36c8c8"/><rect x="543" y="172.5" width="13" height="1.5" fill="#36c8c8"/><rect x="530" y="185.0" width="10" height="1.2" fill="#37b4ff"/><rect x="530" y="188.2" width="19" height="1.2" fill="#37b4ff"/><rect x="530" y="191.4" width="28" height="1.2" fill="#37b4ff"/><rect x="530" y="194.6" width="15" height="1.2" fill="#37b4ff"/><rect x="530" y="197.8" width="24" height="1.2" fill="#37b4ff"/><circle cx="542.5" cy="224.5" r="11.5" fill="none" stroke="#1a9af8" stroke-width="4"/><path d="M542.5,213 A11.5,11.5 0 0,1 554,224.5" fill="none" stroke="#4ad0ff" stroke-width="4"/><circle cx="542.5" cy="224.5" r="6" fill="#0a44a0" stroke="#2aa0f0" stroke-width="1.2"/><rect x="689.4" y="142" width="173.2" height="103.8" fill="url(#crWall)"/><polygon points="689.4,142.0 862.6,142.0 862.6,151.8 765.7,166.3 708.1,161.6 695.4,157.6 689.4,155.3" fill="#aab5c3" /><polygon points="742.7,159.9 769.2,142.0 795.7,142.0 758.8,161.6" fill="#f4f6f9" /><polygon points="719.6,158.8 731.1,142.0 735.7,142.0 724.2,159.9" fill="#f8f9fb" /><polygon points="764.6,164.5 831.4,142.0 837.2,142.0 768.0,165.7" fill="#f4f6f9" /><path d="M706.3330258302583,142.0359778597786 L708.6392988929889,159.90959409594095 L765.719557195572,165.90590405904058 L860.2767527675277,142.0359778597786" fill="none" stroke="#7fcfee" stroke-width="0.9"/><path d="M754.1881918819188,142.0359778597786 L733.4317343173432,159.90959409594095" fill="none" stroke="#a58ae0" stroke-width="0.8"/><path d="M810.6918819188191,142.0359778597786 L765.719557195572,162.21586715867159" fill="none" stroke="#9a8ae0" stroke-width="0.6"/><ellipse cx="705.8" cy="171.4" rx="4" ry="3" fill="#f7f9fb" opacity="0.5"/><ellipse cx="718.4" cy="171.4" rx="4" ry="3" fill="#f7f9fb" opacity="0.5"/><ellipse cx="731.1" cy="171.4" rx="4" ry="3" fill="#f7f9fb" opacity="0.5"/><ellipse cx="746.1" cy="171.4" rx="4" ry="3" fill="#f7f9fb" opacity="0.5"/><ellipse cx="755.3" cy="171.4" rx="4" ry="3" fill="#f7f9fb" opacity="0.5"/><ellipse cx="765.7" cy="171.4" rx="4" ry="3" fill="#f7f9fb" opacity="0.5"/><polygon points="689.4,155.3 695.4,157.6 695.4,202.6 689.4,204.9" fill="#c2cad4" /><polygon points="689.4,202.6 738.0,189.9 862.6,198.0 862.6,245.8 689.4,245.8" fill="url(#crFloor)" /><rect x="689.4" y="185" width="173.2" height="61" fill="#fff" filter="url(#crNoise)" clip-path="url(#crFloorClip)" opacity="0.85"/><polygon points="778.4,168.6 851.1,154.1 851.1,187.8 779.0,185.9" fill="#0b2450" /><polygon points="802.6,163.9 832.6,158.2 832.6,186.4 802.6,185.3" fill="#12386e" /><circle cx="822.2" cy="171.4" r="4.3" fill="#3a7cc8"/><circle cx="822.2" cy="171.4" r="2.2" fill="#8ad0f0"/><circle cx="788.2" cy="177.2" r="3" fill="#38d8e0" opacity="0.8"/><circle cx="838.9" cy="183.5" r="2.2" fill="none" stroke="#e070d0" stroke-width="1"/><rect x="834.9" y="163.4" width="0.9" height="3.0" fill="#e0a040"/><rect x="837.2" y="163.4" width="0.9" height="4.5" fill="#e0a040"/><rect x="839.5" y="163.4" width="0.9" height="6.0" fill="#e0a040"/><rect x="841.8" y="163.4" width="0.9" height="3.0" fill="#e0a040"/><rect x="844.1" y="163.4" width="0.9" height="4.5" fill="#e0a040"/><rect x="846.4" y="163.4" width="0.9" height="6.0" fill="#e0a040"/><polygon points="815.3,183.5 830.3,182.4 830.3,184.1 815.3,184.7" fill="#3fb8d8" opacity="0.7"/><polygon points="794.5,171.4 801.5,170.3 801.5,179.5 794.5,180.1" fill="#2a8ab0" opacity="0.5"/><polygon points="738.0,189.9 774.9,187.6 851.1,193.4 854.5,200.3 830.3,198.0 774.9,192.2 742.7,192.2" fill="#e2e6ec" /><polygon points="826.8,200.3 854.5,200.8 854.5,215.3 844.1,215.3 826.8,207.2" fill="#4a5362" /><polygon points="739.2,191.0 756.5,192.2 800.3,202.6 829.1,207.2 829.1,209.5 799.2,208.3 770.3,198.0 740.4,193.4" fill="#eef0f4" /><polygon points="740.4,193.4 770.3,198.0 799.2,208.3 829.1,209.5 829.1,230.3 814.2,230.3 800.3,225.6 770.3,211.8 742.7,202.6" fill="#4b5361" /><polygon points="814.2,209.5 829.1,209.5 829.1,230.3 814.2,230.3" fill="#3a414d" /><polygon points="712.7,200.3 719.6,192.2 736.9,195.7 735.7,202.6 719.6,202.6" fill="#e6e9ee" /><polygon points="719.6,202.6 735.7,202.6 735.7,213.0 719.6,215.3" fill="#505a68" /><rect x="721.9" y="201.4" width="5" height="2" fill="#40c8e8"/><rect x="720.2" y="188.2" width="4.5" height="3.5" fill="#1c2a40"/><rect x="720.8" y="188.8" width="3.3" height="2.2" fill="#3f7fc0"/><rect x="725.4" y="188.7" width="4.5" height="3.5" fill="#1c2a40"/><rect x="726.0" y="189.3" width="3.3" height="2.2" fill="#3f7fc0"/><rect x="743.2" y="186.2" width="4.5" height="3.5" fill="#1c2a40"/><rect x="743.8" y="186.8" width="3.3" height="2.2" fill="#3f7fc0"/><rect x="747.8" y="186.4" width="4.5" height="3.5" fill="#1c2a40"/><rect x="748.4" y="187.0" width="3.3" height="2.2" fill="#3f7fc0"/><rect x="757.6" y="187.6" width="4.5" height="3.5" fill="#1c2a40"/><rect x="758.2" y="188.2" width="3.3" height="2.2" fill="#3f7fc0"/><rect x="763.4" y="186.4" width="4.5" height="3.5" fill="#1c2a40"/><rect x="764.0" y="187.0" width="3.3" height="2.2" fill="#3f7fc0"/><rect x="768.0" y="186.4" width="4.5" height="3.5" fill="#1c2a40"/><rect x="768.6" y="187.0" width="3.3" height="2.2" fill="#3f7fc0"/><rect x="780.7" y="187.6" width="4.5" height="3.5" fill="#1c2a40"/><rect x="781.3" y="188.2" width="3.3" height="2.2" fill="#3f7fc0"/><rect x="786.5" y="187.8" width="4.5" height="3.5" fill="#1c2a40"/><rect x="787.1" y="188.4" width="3.3" height="2.2" fill="#3f7fc0"/><rect x="795.7" y="191.0" width="4.5" height="3.5" fill="#1c2a40"/><rect x="796.3" y="191.6" width="3.3" height="2.2" fill="#3f7fc0"/><rect x="801.5" y="191.6" width="4.5" height="3.5" fill="#1c2a40"/><rect x="802.1" y="192.2" width="3.3" height="2.2" fill="#3f7fc0"/><rect x="807.2" y="188.7" width="4.5" height="3.5" fill="#1c2a40"/><rect x="807.8" y="189.3" width="3.3" height="2.2" fill="#3f7fc0"/><rect x="811.8" y="188.7" width="4.5" height="3.5" fill="#1c2a40"/><rect x="812.4" y="189.3" width="3.3" height="2.2" fill="#3f7fc0"/><rect x="821.1" y="189.3" width="4.5" height="3.5" fill="#1c2a40"/><rect x="821.7" y="189.9" width="3.3" height="2.2" fill="#3f7fc0"/><rect x="826.8" y="189.3" width="4.5" height="3.5" fill="#1c2a40"/><rect x="827.4" y="189.9" width="3.3" height="2.2" fill="#3f7fc0"/><path d="M704.6,193.4 l1.5,8 l6,1 M707.6,202.4 l-2,6 M709.6,202.4 l3,6" fill="none" stroke="#2a2f38" stroke-width="1.6"/><path d="M708.1,198.0 l1.5,8 l6,1 M711.1,207.0 l-2,6 M713.1,207.0 l3,6" fill="none" stroke="#2a2f38" stroke-width="1.6"/><path d="M770.3,202.6 l1.5,8 l6,1 M773.3,211.6 l-2,6 M775.3,211.6 l3,6" fill="none" stroke="#2a2f38" stroke-width="1.6"/><path d="M783.0,202.6 l1.5,8 l6,1 M786.0,211.6 l-2,6 M788.0,211.6 l3,6" fill="none" stroke="#2a2f38" stroke-width="1.6"/><path d="M749.6,193.4 l1.5,8 l6,1 M752.6,202.4 l-2,6 M754.6,202.4 l3,6" fill="none" stroke="#2a2f38" stroke-width="1.6"/><path d="M925.2,224.8 L966.6,248.9 L1007.7,224.8 M991,239 L1043.7,270.8 L1073.2,254.2 M975.4,200 L1016.1,224 L1057.1,200 M1056.3,242.2 L1097.6,267 L1138.8,242.2" fill="none" stroke="#5f6d8c" stroke-width="0.85"/><polygon points="1024.6,67 1065.1999999999998,90.50000000000001 1065.1999999999998,186.5 1024.6,163" fill="url(#rkL)"/><polygon points="1065.1999999999998,90.50000000000001 1106.5,66.8 1106.5,162.8 1065.1999999999998,186.5" fill="#1f283c"/><polygon points="1065.9,43.3 1106.5,66.8 1065.1999999999998,90.50000000000001 1024.6,67" fill="url(#rkT)"/><polygon points="1068.2,92.8 1103.5,72.5 1103.5,81.5 1068.2,101.8" fill="#151b28" /><polygon points="1068.2,101.8 1103.5,81.5 1103.5,82.3 1068.2,102.6" fill="#3a4356" /><polygon points="1068.2,104.8 1103.5,84.5 1103.5,93.5 1068.2,113.8" fill="#151b28" /><polygon points="1068.2,113.8 1103.5,93.5 1103.5,94.3 1068.2,114.6" fill="#3a4356" /><polygon points="1068.2,116.8 1103.5,96.5 1103.5,105.5 1068.2,125.8" fill="#151b28" /><polygon points="1068.2,125.8 1103.5,105.5 1103.5,106.3 1068.2,126.6" fill="#3a4356" /><polygon points="1068.2,128.8 1103.5,108.5 1103.5,117.5 1068.2,137.8" fill="#151b28" /><polygon points="1068.2,137.8 1103.5,117.5 1103.5,118.3 1068.2,138.6" fill="#3a4356" /><polygon points="1068.2,140.8 1103.5,120.5 1103.5,129.5 1068.2,149.8" fill="#151b28" /><polygon points="1068.2,149.8 1103.5,129.5 1103.5,130.3 1068.2,150.6" fill="#3a4356" /><polygon points="1068.2,152.8 1103.5,132.5 1103.5,141.5 1068.2,161.8" fill="#151b28" /><polygon points="1068.2,161.8 1103.5,141.5 1103.5,142.3 1068.2,162.6" fill="#3a4356" /><polygon points="1069.7,94.4 1073.7,92.1 1073.7,97.1 1069.7,99.4" fill="#8ad84a" /><polygon points="1076.2,92.2 1084.2,87.6 1084.2,89.1 1076.2,93.7" fill="#d86a3a" /><polygon points="1086.2,83.2 1087.6,82.4 1087.6,90.1 1086.2,90.9" fill="#9d8fe0" /><polygon points="1088.8,81.8 1090.2,81.0 1090.2,88.7 1088.8,89.5" fill="#9d8fe0" /><polygon points="1091.4,80.3 1092.8,79.5 1092.8,87.2 1091.4,88.0" fill="#9d8fe0" /><polygon points="1094.0,78.8 1095.4,78.0 1095.4,85.7 1094.0,86.5" fill="#9d8fe0" /><polygon points="1096.6,77.3 1098.0,76.5 1098.0,84.2 1096.6,85.0" fill="#9d8fe0" /><polygon points="1099.2,75.8 1100.6,75.0 1100.6,82.7 1099.2,83.5" fill="#9d8fe0" /><polygon points="1101.8,74.3 1103.2,73.5 1103.2,81.2 1101.8,82.0" fill="#9d8fe0" /><polygon points="1069.7,106.4 1073.7,104.1 1073.7,109.1 1069.7,111.4" fill="#8ad84a" /><polygon points="1085.2,96.5 1088.0,94.9 1088.0,100.4 1085.2,102.0" fill="#e8506a" /><polygon points="1089.4,94.1 1092.2,92.5 1092.2,98.0 1089.4,99.6" fill="#f0b030" /><polygon points="1093.6,91.7 1096.4,90.1 1096.4,95.6 1093.6,97.2" fill="#a8d0f0" /><polygon points="1097.8,89.3 1100.6,87.7 1100.6,93.2 1097.8,94.8" fill="#a8d0f0" /><circle cx="1070.2" cy="121.1" r="0.65" fill="#4fc0f0"/><circle cx="1072.6" cy="119.8" r="0.65" fill="#4fc0f0"/><circle cx="1075.0" cy="118.4" r="0.65" fill="#4fc0f0"/><circle cx="1077.4" cy="117.0" r="0.65" fill="#4fc0f0"/><circle cx="1079.8" cy="115.6" r="0.65" fill="#4fc0f0"/><polygon points="1084.2,109.4 1102.5,98.9 1102.5,103.1 1084.2,113.6" fill="#aab2c4" /><circle cx="1070.2" cy="133.1" r="0.65" fill="#4fc0f0"/><circle cx="1072.6" cy="131.8" r="0.65" fill="#4fc0f0"/><circle cx="1075.0" cy="130.4" r="0.65" fill="#4fc0f0"/><circle cx="1077.4" cy="129.0" r="0.65" fill="#4fc0f0"/><circle cx="1079.8" cy="127.6" r="0.65" fill="#4fc0f0"/><polygon points="1084.2,121.4 1102.5,110.9 1102.5,115.1 1084.2,125.6" fill="#aab2c4" /><circle cx="1070.2" cy="145.1" r="0.65" fill="#4fc0f0"/><circle cx="1072.6" cy="143.8" r="0.65" fill="#4fc0f0"/><circle cx="1075.0" cy="142.4" r="0.65" fill="#4fc0f0"/><circle cx="1077.4" cy="141.0" r="0.65" fill="#4fc0f0"/><circle cx="1079.8" cy="139.6" r="0.65" fill="#4fc0f0"/><polygon points="1084.2,133.4 1102.5,122.9 1102.5,127.1 1084.2,137.6" fill="#aab2c4" /><circle cx="1070.2" cy="157.1" r="0.65" fill="#4fc0f0"/><circle cx="1072.6" cy="155.8" r="0.65" fill="#4fc0f0"/><circle cx="1075.0" cy="154.4" r="0.65" fill="#4fc0f0"/><circle cx="1077.4" cy="153.0" r="0.65" fill="#4fc0f0"/><circle cx="1079.8" cy="151.6" r="0.65" fill="#4fc0f0"/><polygon points="1084.2,145.4 1102.5,134.9 1102.5,139.1 1084.2,149.6" fill="#aab2c4" /><polygon points="1068.2,170.8 1070.0,169.7 1070.0,178.7 1068.2,179.8" fill="#5d6679" /><polygon points="1072.6,168.3 1074.4,167.2 1074.4,176.2 1072.6,177.3" fill="#5d6679" /><polygon points="1077.0,165.7 1078.8,164.7 1078.8,173.7 1077.0,174.7" fill="#5d6679" /><polygon points="1081.4,163.2 1083.2,162.2 1083.2,171.2 1081.4,172.2" fill="#5d6679" /><polygon points="1085.8,160.7 1087.6,159.6 1087.6,168.6 1085.8,169.7" fill="#5d6679" /><polygon points="1090.2,158.2 1092.0,157.1 1092.0,166.1 1090.2,167.2" fill="#5d6679" /><polygon points="1094.6,155.6 1096.4,154.6 1096.4,163.6 1094.6,164.6" fill="#5d6679" /><polygon points="1099.0,153.1 1100.8,152.1 1100.8,161.1 1099.0,162.1" fill="#5d6679" /><polygon points="1103.4,150.6 1105.2,149.5 1105.2,158.5 1103.4,159.6" fill="#5d6679" /><polygon points="1027.6,150.7 1029.4,151.8 1029.4,160.8 1027.6,159.7" fill="#4f586b"/><polygon points="1032.0,153.3 1033.8,154.3 1033.8,163.3 1032.0,162.3" fill="#4f586b"/><polygon points="1036.4,155.8 1038.2,156.9 1038.2,165.9 1036.4,164.8" fill="#4f586b"/><polygon points="1040.8,158.4 1042.6,159.4 1042.6,168.4 1040.8,167.4" fill="#4f586b"/><polygon points="1045.2,160.9 1047.0,162.0 1047.0,171.0 1045.2,169.9" fill="#4f586b"/><polygon points="1049.6,163.5 1051.4,164.5 1051.4,173.5 1049.6,172.5" fill="#4f586b"/><polygon points="1054.0,166.0 1055.8,167.1 1055.8,176.1 1054.0,175.0" fill="#4f586b"/><polygon points="1058.4,168.6 1060.2,169.6 1060.2,178.6 1058.4,177.6" fill="#4f586b"/><polygon points="1062.8,171.1 1064.6,172.2 1064.6,181.2 1062.8,180.1" fill="#4f586b"/><polygon points="975.4,96 1016.4,119.9 1016.4,215.9 975.4,192" fill="url(#rkL)"/><polygon points="1016.4,119.9 1057.1,96 1057.1,192 1016.4,215.9" fill="#1f283c"/><polygon points="1016.1,72.1 1057.1,96 1016.4,119.9 975.4,96" fill="url(#rkT)"/><polygon points="1019.4,122.1 1054.1,101.8 1054.1,110.8 1019.4,131.1" fill="#151b28" /><polygon points="1019.4,131.1 1054.1,110.8 1054.1,111.6 1019.4,131.9" fill="#3a4356" /><polygon points="1019.4,134.1 1054.1,113.8 1054.1,122.8 1019.4,143.1" fill="#151b28" /><polygon points="1019.4,143.1 1054.1,122.8 1054.1,123.6 1019.4,143.9" fill="#3a4356" /><polygon points="1019.4,146.1 1054.1,125.8 1054.1,134.8 1019.4,155.1" fill="#151b28" /><polygon points="1019.4,155.1 1054.1,134.8 1054.1,135.6 1019.4,155.9" fill="#3a4356" /><polygon points="1019.4,158.1 1054.1,137.8 1054.1,146.8 1019.4,167.1" fill="#151b28" /><polygon points="1019.4,167.1 1054.1,146.8 1054.1,147.6 1019.4,167.9" fill="#3a4356" /><polygon points="1019.4,170.1 1054.1,149.8 1054.1,158.8 1019.4,179.1" fill="#151b28" /><polygon points="1019.4,179.1 1054.1,158.8 1054.1,159.6 1019.4,179.9" fill="#3a4356" /><polygon points="1019.4,182.1 1054.1,161.8 1054.1,170.8 1019.4,191.1" fill="#151b28" /><polygon points="1019.4,191.1 1054.1,170.8 1054.1,171.6 1019.4,191.9" fill="#3a4356" /><polygon points="1020.9,123.8 1024.9,121.4 1024.9,126.4 1020.9,128.8" fill="#8ad84a" /><polygon points="1027.4,121.4 1035.4,116.7 1035.4,118.2 1027.4,122.9" fill="#d86a3a" /><polygon points="1037.4,112.4 1038.8,111.5 1038.8,119.2 1037.4,120.1" fill="#9d8fe0" /><polygon points="1040.0,110.8 1041.4,110.0 1041.4,117.7 1040.0,118.5" fill="#9d8fe0" /><polygon points="1042.6,109.3 1044.0,108.5 1044.0,116.2 1042.6,117.0" fill="#9d8fe0" /><polygon points="1045.2,107.8 1046.6,107.0 1046.6,114.7 1045.2,115.5" fill="#9d8fe0" /><polygon points="1047.8,106.3 1049.2,105.4 1049.2,113.1 1047.8,114.0" fill="#9d8fe0" /><polygon points="1050.4,104.7 1051.8,103.9 1051.8,111.6 1050.4,112.4" fill="#9d8fe0" /><polygon points="1053.0,103.2 1054.4,102.4 1054.4,110.1 1053.0,110.9" fill="#9d8fe0" /><polygon points="1020.9,135.8 1024.9,133.4 1024.9,138.4 1020.9,140.8" fill="#8ad84a" /><polygon points="1036.4,125.7 1039.2,124.0 1039.2,129.5 1036.4,131.2" fill="#e8506a" /><polygon points="1040.6,123.2 1043.4,121.5 1043.4,127.0 1040.6,128.7" fill="#f0b030" /><polygon points="1044.8,120.7 1047.6,119.1 1047.6,124.6 1044.8,126.2" fill="#a8d0f0" /><polygon points="1049.0,118.3 1051.8,116.6 1051.8,122.1 1049.0,123.8" fill="#a8d0f0" /><circle cx="1021.4" cy="150.5" r="0.65" fill="#4fc0f0"/><circle cx="1023.8" cy="149.1" r="0.65" fill="#4fc0f0"/><circle cx="1026.2" cy="147.6" r="0.65" fill="#4fc0f0"/><circle cx="1028.6" cy="146.2" r="0.65" fill="#4fc0f0"/><circle cx="1031.0" cy="144.8" r="0.65" fill="#4fc0f0"/><polygon points="1035.4,138.5 1053.1,128.1 1053.1,132.3 1035.4,142.7" fill="#aab2c4" /><circle cx="1021.4" cy="162.5" r="0.65" fill="#4fc0f0"/><circle cx="1023.8" cy="161.1" r="0.65" fill="#4fc0f0"/><circle cx="1026.2" cy="159.6" r="0.65" fill="#4fc0f0"/><circle cx="1028.6" cy="158.2" r="0.65" fill="#4fc0f0"/><circle cx="1031.0" cy="156.8" r="0.65" fill="#4fc0f0"/><polygon points="1035.4,150.5 1053.1,140.1 1053.1,144.3 1035.4,154.7" fill="#aab2c4" /><circle cx="1021.4" cy="174.5" r="0.65" fill="#4fc0f0"/><circle cx="1023.8" cy="173.1" r="0.65" fill="#4fc0f0"/><circle cx="1026.2" cy="171.6" r="0.65" fill="#4fc0f0"/><circle cx="1028.6" cy="170.2" r="0.65" fill="#4fc0f0"/><circle cx="1031.0" cy="168.8" r="0.65" fill="#4fc0f0"/><polygon points="1035.4,162.5 1053.1,152.1 1053.1,156.3 1035.4,166.7" fill="#aab2c4" /><circle cx="1021.4" cy="186.5" r="0.65" fill="#4fc0f0"/><circle cx="1023.8" cy="185.1" r="0.65" fill="#4fc0f0"/><circle cx="1026.2" cy="183.6" r="0.65" fill="#4fc0f0"/><circle cx="1028.6" cy="182.2" r="0.65" fill="#4fc0f0"/><circle cx="1031.0" cy="180.8" r="0.65" fill="#4fc0f0"/><polygon points="1035.4,174.5 1053.1,164.1 1053.1,168.3 1035.4,178.7" fill="#aab2c4" /><polygon points="1019.4,200.1 1021.2,199.1 1021.2,208.1 1019.4,209.1" fill="#5d6679" /><polygon points="1023.8,197.6 1025.6,196.5 1025.6,205.5 1023.8,206.6" fill="#5d6679" /><polygon points="1028.2,195.0 1030.0,193.9 1030.0,202.9 1028.2,204.0" fill="#5d6679" /><polygon points="1032.6,192.4 1034.4,191.3 1034.4,200.3 1032.6,201.4" fill="#5d6679" /><polygon points="1037.0,189.8 1038.8,188.7 1038.8,197.7 1037.0,198.8" fill="#5d6679" /><polygon points="1041.4,187.2 1043.2,186.2 1043.2,195.2 1041.4,196.2" fill="#5d6679" /><polygon points="1045.8,184.6 1047.6,183.6 1047.6,192.6 1045.8,193.6" fill="#5d6679" /><polygon points="1050.2,182.1 1052.0,181.0 1052.0,190.0 1050.2,191.1" fill="#5d6679" /><polygon points="1054.6,179.5 1056.4,178.4 1056.4,187.4 1054.6,188.5" fill="#5d6679" /><polygon points="978.4,179.7 980.2,180.8 980.2,189.8 978.4,188.7" fill="#4f586b"/><polygon points="982.8,182.3 984.6,183.4 984.6,192.4 982.8,191.3" fill="#4f586b"/><polygon points="987.2,184.9 989.0,185.9 989.0,194.9 987.2,193.9" fill="#4f586b"/><polygon points="991.6,187.4 993.4,188.5 993.4,197.5 991.6,196.4" fill="#4f586b"/><polygon points="996.0,190.0 997.8,191.1 997.8,200.1 996.0,199.0" fill="#4f586b"/><polygon points="1000.4,192.6 1002.2,193.6 1002.2,202.6 1000.4,201.6" fill="#4f586b"/><polygon points="1004.8,195.1 1006.6,196.2 1006.6,205.2 1004.8,204.1" fill="#4f586b"/><polygon points="1009.2,197.7 1011.0,198.8 1011.0,207.8 1009.2,206.7" fill="#4f586b"/><polygon points="1013.6,200.3 1015.4,201.3 1015.4,210.3 1013.6,209.3" fill="#4f586b"/><polygon points="925.2,124.5 966.3000000000001,148.8 966.3000000000001,244.8 925.2,220.5" fill="url(#rkL)"/><polygon points="966.3000000000001,148.8 1007.7,125.1 1007.7,221.1 966.3000000000001,244.8" fill="#1f283c"/><polygon points="966.6,100.8 1007.7,125.1 966.3000000000001,148.8 925.2,124.5" fill="url(#rkT)"/><polygon points="969.3,151.1 1004.7,130.8 1004.7,139.8 969.3,160.1" fill="#151b28" /><polygon points="969.3,160.1 1004.7,139.8 1004.7,140.6 969.3,160.9" fill="#3a4356" /><polygon points="969.3,163.1 1004.7,142.8 1004.7,151.8 969.3,172.1" fill="#151b28" /><polygon points="969.3,172.1 1004.7,151.8 1004.7,152.6 969.3,172.9" fill="#3a4356" /><polygon points="969.3,175.1 1004.7,154.8 1004.7,163.8 969.3,184.1" fill="#151b28" /><polygon points="969.3,184.1 1004.7,163.8 1004.7,164.6 969.3,184.9" fill="#3a4356" /><polygon points="969.3,187.1 1004.7,166.8 1004.7,175.8 969.3,196.1" fill="#151b28" /><polygon points="969.3,196.1 1004.7,175.8 1004.7,176.6 969.3,196.9" fill="#3a4356" /><polygon points="969.3,199.1 1004.7,178.8 1004.7,187.8 969.3,208.1" fill="#151b28" /><polygon points="969.3,208.1 1004.7,187.8 1004.7,188.6 969.3,208.9" fill="#3a4356" /><polygon points="969.3,211.1 1004.7,190.8 1004.7,199.8 969.3,220.1" fill="#151b28" /><polygon points="969.3,220.1 1004.7,199.8 1004.7,200.6 969.3,220.9" fill="#3a4356" /><polygon points="970.8,152.7 974.8,150.4 974.8,155.4 970.8,157.7" fill="#8ad84a" /><polygon points="977.3,150.5 985.3,145.9 985.3,147.4 977.3,152.0" fill="#d86a3a" /><polygon points="987.3,141.6 988.7,140.8 988.7,148.5 987.3,149.3" fill="#9d8fe0" /><polygon points="989.9,140.1 991.3,139.3 991.3,147.0 989.9,147.8" fill="#9d8fe0" /><polygon points="992.5,138.6 993.9,137.8 993.9,145.5 992.5,146.3" fill="#9d8fe0" /><polygon points="995.1,137.1 996.5,136.3 996.5,144.0 995.1,144.8" fill="#9d8fe0" /><polygon points="997.7,135.6 999.1,134.8 999.1,142.5 997.7,143.3" fill="#9d8fe0" /><polygon points="1000.3,134.1 1001.7,133.3 1001.7,141.0 1000.3,141.8" fill="#9d8fe0" /><polygon points="1002.9,132.6 1004.3,131.8 1004.3,139.5 1002.9,140.3" fill="#9d8fe0" /><polygon points="970.8,164.7 974.8,162.4 974.8,167.4 970.8,169.7" fill="#8ad84a" /><polygon points="986.3,154.9 989.1,153.2 989.1,158.7 986.3,160.4" fill="#e8506a" /><polygon points="990.5,152.4 993.3,150.8 993.3,156.3 990.5,157.9" fill="#f0b030" /><polygon points="994.7,150.0 997.5,148.4 997.5,153.9 994.7,155.5" fill="#a8d0f0" /><polygon points="998.9,147.6 1001.7,146.0 1001.7,151.5 998.9,153.1" fill="#a8d0f0" /><circle cx="971.3" cy="179.4" r="0.65" fill="#4fc0f0"/><circle cx="973.7" cy="178.1" r="0.65" fill="#4fc0f0"/><circle cx="976.1" cy="176.7" r="0.65" fill="#4fc0f0"/><circle cx="978.5" cy="175.3" r="0.65" fill="#4fc0f0"/><circle cx="980.9" cy="173.9" r="0.65" fill="#4fc0f0"/><polygon points="985.3,167.7 1003.7,157.2 1003.7,161.4 985.3,171.9" fill="#aab2c4" /><circle cx="971.3" cy="191.4" r="0.65" fill="#4fc0f0"/><circle cx="973.7" cy="190.1" r="0.65" fill="#4fc0f0"/><circle cx="976.1" cy="188.7" r="0.65" fill="#4fc0f0"/><circle cx="978.5" cy="187.3" r="0.65" fill="#4fc0f0"/><circle cx="980.9" cy="185.9" r="0.65" fill="#4fc0f0"/><polygon points="985.3,179.7 1003.7,169.2 1003.7,173.4 985.3,183.9" fill="#aab2c4" /><circle cx="971.3" cy="203.4" r="0.65" fill="#4fc0f0"/><circle cx="973.7" cy="202.1" r="0.65" fill="#4fc0f0"/><circle cx="976.1" cy="200.7" r="0.65" fill="#4fc0f0"/><circle cx="978.5" cy="199.3" r="0.65" fill="#4fc0f0"/><circle cx="980.9" cy="197.9" r="0.65" fill="#4fc0f0"/><polygon points="985.3,191.7 1003.7,181.2 1003.7,185.4 985.3,195.9" fill="#aab2c4" /><circle cx="971.3" cy="215.4" r="0.65" fill="#4fc0f0"/><circle cx="973.7" cy="214.1" r="0.65" fill="#4fc0f0"/><circle cx="976.1" cy="212.7" r="0.65" fill="#4fc0f0"/><circle cx="978.5" cy="211.3" r="0.65" fill="#4fc0f0"/><circle cx="980.9" cy="209.9" r="0.65" fill="#4fc0f0"/><polygon points="985.3,203.7 1003.7,193.2 1003.7,197.4 985.3,207.9" fill="#aab2c4" /><polygon points="969.3,229.1 971.1,228.1 971.1,237.1 969.3,238.1" fill="#5d6679" /><polygon points="973.7,226.6 975.5,225.5 975.5,234.5 973.7,235.6" fill="#5d6679" /><polygon points="978.1,224.0 979.9,223.0 979.9,232.0 978.1,233.0" fill="#5d6679" /><polygon points="982.5,221.5 984.3,220.5 984.3,229.5 982.5,230.5" fill="#5d6679" /><polygon points="986.9,219.0 988.7,218.0 988.7,227.0 986.9,228.0" fill="#5d6679" /><polygon points="991.3,216.5 993.1,215.5 993.1,224.5 991.3,225.5" fill="#5d6679" /><polygon points="995.7,214.0 997.5,212.9 997.5,221.9 995.7,223.0" fill="#5d6679" /><polygon points="1000.1,211.5 1001.9,210.4 1001.9,219.4 1000.1,220.5" fill="#5d6679" /><polygon points="1004.5,208.9 1006.3,207.9 1006.3,216.9 1004.5,217.9" fill="#5d6679" /><polygon points="928.2,208.3 930.0,209.3 930.0,218.3 928.2,217.3" fill="#4f586b"/><polygon points="932.6,210.9 934.4,211.9 934.4,220.9 932.6,219.9" fill="#4f586b"/><polygon points="937.0,213.5 938.8,214.5 938.8,223.5 937.0,222.5" fill="#4f586b"/><polygon points="941.4,216.1 943.2,217.1 943.2,226.1 941.4,225.1" fill="#4f586b"/><polygon points="945.8,218.7 947.6,219.7 947.6,228.7 945.8,227.7" fill="#4f586b"/><polygon points="950.2,221.3 952.0,222.3 952.0,231.3 950.2,230.3" fill="#4f586b"/><polygon points="954.6,223.9 956.4,224.9 956.4,233.9 954.6,232.9" fill="#4f586b"/><polygon points="959.0,226.5 960.8,227.5 960.8,236.5 959.0,235.5" fill="#4f586b"/><polygon points="963.4,229.1 965.2,230.1 965.2,239.1 963.4,238.1" fill="#4f586b"/><polygon points="1056.3,142.5 1097.5,166.09999999999997 1097.5,262.09999999999997 1056.3,238.5" fill="url(#rkL)"/><polygon points="1097.5,166.09999999999997 1138.8,143.4 1138.8,239.4 1097.5,262.09999999999997" fill="#1f283c"/><polygon points="1097.6,119.8 1138.8,143.4 1097.5,166.09999999999997 1056.3,142.5" fill="url(#rkT)"/><polygon points="1100.5,168.5 1135.8,149.0 1135.8,158.0 1100.5,177.5" fill="#151b28" /><polygon points="1100.5,177.5 1135.8,158.0 1135.8,158.8 1100.5,178.3" fill="#3a4356" /><polygon points="1100.5,180.5 1135.8,161.0 1135.8,170.0 1100.5,189.5" fill="#151b28" /><polygon points="1100.5,189.5 1135.8,170.0 1135.8,170.8 1100.5,190.3" fill="#3a4356" /><polygon points="1100.5,192.5 1135.8,173.0 1135.8,182.0 1100.5,201.5" fill="#151b28" /><polygon points="1100.5,201.5 1135.8,182.0 1135.8,182.8 1100.5,202.3" fill="#3a4356" /><polygon points="1100.5,204.5 1135.8,185.0 1135.8,194.0 1100.5,213.5" fill="#151b28" /><polygon points="1100.5,213.5 1135.8,194.0 1135.8,194.8 1100.5,214.3" fill="#3a4356" /><polygon points="1100.5,216.5 1135.8,197.0 1135.8,206.0 1100.5,225.5" fill="#151b28" /><polygon points="1100.5,225.5 1135.8,206.0 1135.8,206.8 1100.5,226.3" fill="#3a4356" /><polygon points="1100.5,228.5 1135.8,209.0 1135.8,218.0 1100.5,237.5" fill="#151b28" /><polygon points="1100.5,237.5 1135.8,218.0 1135.8,218.8 1100.5,238.3" fill="#3a4356" /><polygon points="1102.0,170.1 1106.0,167.9 1106.0,172.9 1102.0,175.1" fill="#8ad84a" /><polygon points="1108.5,168.1 1116.5,163.7 1116.5,165.2 1108.5,169.6" fill="#d86a3a" /><polygon points="1118.5,159.4 1119.9,158.6 1119.9,166.3 1118.5,167.1" fill="#9d8fe0" /><polygon points="1121.1,157.9 1122.5,157.2 1122.5,164.9 1121.1,165.6" fill="#9d8fe0" /><polygon points="1123.7,156.5 1125.1,155.7 1125.1,163.4 1123.7,164.2" fill="#9d8fe0" /><polygon points="1126.3,155.1 1127.7,154.3 1127.7,162.0 1126.3,162.8" fill="#9d8fe0" /><polygon points="1128.9,153.6 1130.3,152.9 1130.3,160.6 1128.9,161.3" fill="#9d8fe0" /><polygon points="1131.5,152.2 1132.9,151.4 1132.9,159.1 1131.5,159.9" fill="#9d8fe0" /><polygon points="1134.1,150.8 1135.5,150.0 1135.5,157.7 1134.1,158.5" fill="#9d8fe0" /><polygon points="1100.5,168.5 1135.8,149.0 1135.8,158.0 1100.5,177.5" fill="#eef0f4" /><polygon points="1102.0,169.6 1105.5,167.7 1105.5,173.2 1102.0,175.1" fill="#8ad84a" /><polygon points="1107.0,167.9 1113.5,164.3 1113.5,166.3 1107.0,169.9" fill="#e08a60" /><polygon points="1121.5,157.9 1122.6,157.3 1122.6,164.3 1121.5,164.9" fill="#222" /><polygon points="1123.7,156.7 1124.8,156.1 1124.8,163.1 1123.7,163.7" fill="#222" /><polygon points="1125.9,155.5 1127.0,154.9 1127.0,161.9 1125.9,162.5" fill="#222" /><polygon points="1128.1,154.3 1129.2,153.7 1129.2,160.7 1128.1,161.3" fill="#222" /><polygon points="1130.3,153.1 1131.4,152.5 1131.4,159.5 1130.3,160.1" fill="#222" /><polygon points="1132.5,151.9 1133.6,151.3 1133.6,158.3 1132.5,158.9" fill="#222" /><polygon points="1134.7,150.7 1135.8,150.0 1135.8,157.0 1134.7,157.7" fill="#222" /><polygon points="1102.0,182.1 1106.0,179.9 1106.0,184.9 1102.0,187.1" fill="#8ad84a" /><polygon points="1117.5,172.6 1120.3,171.1 1120.3,176.6 1117.5,178.1" fill="#e8506a" /><polygon points="1121.7,170.3 1124.5,168.8 1124.5,174.3 1121.7,175.8" fill="#f0b030" /><polygon points="1125.9,168.0 1128.7,166.5 1128.7,172.0 1125.9,173.5" fill="#a8d0f0" /><polygon points="1130.1,165.7 1132.9,164.1 1132.9,169.6 1130.1,171.2" fill="#a8d0f0" /><circle cx="1102.5" cy="196.9" r="0.65" fill="#4fc0f0"/><circle cx="1104.9" cy="195.5" r="0.65" fill="#4fc0f0"/><circle cx="1107.3" cy="194.2" r="0.65" fill="#4fc0f0"/><circle cx="1109.7" cy="192.9" r="0.65" fill="#4fc0f0"/><circle cx="1112.1" cy="191.6" r="0.65" fill="#4fc0f0"/><polygon points="1116.5,185.5 1134.8,175.4 1134.8,179.6 1116.5,189.7" fill="#aab2c4" /><circle cx="1102.5" cy="208.9" r="0.65" fill="#4fc0f0"/><circle cx="1104.9" cy="207.5" r="0.65" fill="#4fc0f0"/><circle cx="1107.3" cy="206.2" r="0.65" fill="#4fc0f0"/><circle cx="1109.7" cy="204.9" r="0.65" fill="#4fc0f0"/><circle cx="1112.1" cy="203.6" r="0.65" fill="#4fc0f0"/><polygon points="1116.5,197.5 1134.8,187.4 1134.8,191.6 1116.5,201.7" fill="#aab2c4" /><circle cx="1102.5" cy="220.9" r="0.65" fill="#4fc0f0"/><circle cx="1104.9" cy="219.5" r="0.65" fill="#4fc0f0"/><circle cx="1107.3" cy="218.2" r="0.65" fill="#4fc0f0"/><circle cx="1109.7" cy="216.9" r="0.65" fill="#4fc0f0"/><circle cx="1112.1" cy="215.6" r="0.65" fill="#4fc0f0"/><polygon points="1116.5,209.5 1134.8,199.4 1134.8,203.6 1116.5,213.7" fill="#aab2c4" /><circle cx="1102.5" cy="232.9" r="0.65" fill="#4fc0f0"/><circle cx="1104.9" cy="231.5" r="0.65" fill="#4fc0f0"/><circle cx="1107.3" cy="230.2" r="0.65" fill="#4fc0f0"/><circle cx="1109.7" cy="228.9" r="0.65" fill="#4fc0f0"/><circle cx="1112.1" cy="227.6" r="0.65" fill="#4fc0f0"/><polygon points="1116.5,221.5 1134.8,211.4 1134.8,215.6 1116.5,225.7" fill="#aab2c4" /><polygon points="1100.5,246.5 1102.3,245.5 1102.3,254.5 1100.5,255.5" fill="#5d6679" /><polygon points="1104.9,244.0 1106.7,243.0 1106.7,252.0 1104.9,253.0" fill="#5d6679" /><polygon points="1109.3,241.6 1111.1,240.6 1111.1,249.6 1109.3,250.6" fill="#5d6679" /><polygon points="1113.7,239.2 1115.5,238.2 1115.5,247.2 1113.7,248.2" fill="#5d6679" /><polygon points="1118.1,236.8 1119.9,235.8 1119.9,244.8 1118.1,245.8" fill="#5d6679" /><polygon points="1122.5,234.4 1124.3,233.4 1124.3,242.4 1122.5,243.4" fill="#5d6679" /><polygon points="1126.9,231.9 1128.7,231.0 1128.7,240.0 1126.9,240.9" fill="#5d6679" /><polygon points="1131.3,229.5 1133.1,228.5 1133.1,237.5 1131.3,238.5" fill="#5d6679" /><polygon points="1135.7,227.1 1137.5,226.1 1137.5,235.1 1135.7,236.1" fill="#5d6679" /><polygon points="1059.3,226.2 1061.1,227.2 1061.1,236.2 1059.3,235.2" fill="#4f586b"/><polygon points="1063.7,228.7 1065.5,229.8 1065.5,238.8 1063.7,237.7" fill="#4f586b"/><polygon points="1068.1,231.3 1069.9,232.3 1069.9,241.3 1068.1,240.3" fill="#4f586b"/><polygon points="1072.5,233.8 1074.3,234.8 1074.3,243.8 1072.5,242.8" fill="#4f586b"/><polygon points="1076.9,236.3 1078.7,237.3 1078.7,246.3 1076.9,245.3" fill="#4f586b"/><polygon points="1081.3,238.8 1083.1,239.9 1083.1,248.9 1081.3,247.8" fill="#4f586b"/><polygon points="1085.7,241.3 1087.5,242.4 1087.5,251.4 1085.7,250.3" fill="#4f586b"/><polygon points="1090.1,243.9 1091.9,244.9 1091.9,253.9 1090.1,252.9" fill="#4f586b"/><polygon points="1094.5,246.4 1096.3,247.4 1096.3,256.4 1094.5,255.4" fill="#4f586b"/><polygon points="1101,211.7 1128.6,196 1159,211.7 1132.3,226.5" fill="#e4e8ee"/><polygon points="1104,213 1117,205.5 1125,209.5 1112,217" fill="#b9c0cc"/><polygon points="1121,203.5 1131,198 1150,208 1140,213.5" fill="#b9c0cc"/><line x1="1112" y1="208" x2="1135" y2="220" stroke="#2c3448" stroke-width="1.8"/><polygon points="1101,211.7 1132.3,226.5 1132.3,237.6 1101,222" fill="#d3d8e0"/><polygon points="1132.3,226.5 1159,211.7 1159,218.2 1132.3,237.6" fill="#f2f4f7"/><polygon points="1135,227.5 1156,216 1156,219.5 1135,231" fill="#1f2637"/><rect x="1141" y="222.5" width="2.2" height="1.6" fill="#4a70d8"/><rect x="1148" y="218.8" width="2.2" height="1.6" fill="#e04050"/><g transform="translate(0,0)"><path d="M124,1052 Q131,1058 132,1066 Q134,1076 128,1081 Q122,1084 116,1083 M126,1053 Q136,1066 136,1074 Q135,1082 124,1085 M120,1060 Q130,1062 131,1072" fill="none" stroke="#4a4a4a" stroke-width="0.9"/><rect x="113" y="1056" width="9" height="78.5" fill="url(#poleG)"/><rect x="112" y="1055" width="11" height="2.5" fill="#4f8f6f"/><rect x="100" y="1081" width="16" height="22" rx="1" fill="#3f8a6c"/><rect x="100" y="1081" width="4.5" height="22" fill="#32775a"/><rect x="104.5" y="1081" width="11.5" height="1.5" fill="#5aa084"/><rect x="124" y="1083" width="12.5" height="21" fill="#e8e8e6" stroke="#c0c0bc" stroke-width="0.5"/><rect x="121.5" y="1083" width="2.5" height="20" fill="#2f6f50"/><path d="M111,1103 Q108,1112 112,1117 Q118,1121 124,1116 Q127,1110 125,1104 M116,1103 Q112,1110 116,1114 M126,1104 Q130,1112 126,1118" fill="none" stroke="#505050" stroke-width="0.9"/><path d="M116,1089 Q124,1092 125,1098" fill="none" stroke="#444" stroke-width="0.8"/><ellipse cx="115.5" cy="1046.5" rx="10" ry="8.5" fill="#d9d5cf"/><ellipse cx="114.5" cy="1048" rx="8" ry="6.5" fill="#cfcac3"/><ellipse cx="117.5" cy="1043" rx="3.6" ry="3.6" fill="#eef0ee" stroke="#b0aea8" stroke-width="0.5"/><rect x="108" y="1037" width="4" height="7" fill="#c9c6c0" transform="rotate(-25 110 1040)"/><rect x="120" y="1034" width="2.5" height="4" fill="#3a3a3a"/><rect x="123.5" y="1033" width="1.5" height="4" fill="#3a3a3a"/><polygon points="95,1029 130,1020.5 131.5,1031.5 100,1039.5 95,1034" fill="url(#camG)"/><polygon points="95,1028 130,1019.8 130.8,1022.5 96,1031" fill="#f8f8f6"/><polygon points="87.5,1029.5 96,1027.5 104,1033 104,1040 98,1041 87.5,1033" fill="#ada89e"/><polygon points="96,1033 103,1032 103,1038.5 97,1039.5" fill="#343432"/><line x1="104.0" y1="1030.5" x2="108.0" y2="1029.5" stroke="#c4c2bc" stroke-width="0.5"/><line x1="109.5" y1="1029.15" x2="113.5" y2="1028.15" stroke="#c4c2bc" stroke-width="0.5"/><line x1="115.0" y1="1027.8" x2="119.0" y2="1026.8" stroke="#c4c2bc" stroke-width="0.5"/><line x1="120.5" y1="1026.45" x2="124.5" y2="1025.45" stroke="#c4c2bc" stroke-width="0.5"/><line x1="126.0" y1="1025.1" x2="130.0" y2="1024.1" stroke="#c4c2bc" stroke-width="0.5"/></g><g transform="translate(711.5,0)"><path d="M124,1052 Q131,1058 132,1066 Q134,1076 128,1081 Q122,1084 116,1083 M126,1053 Q136,1066 136,1074 Q135,1082 124,1085 M120,1060 Q130,1062 131,1072" fill="none" stroke="#4a4a4a" stroke-width="0.9"/><rect x="113" y="1056" width="9" height="78.5" fill="url(#poleG)"/><rect x="112" y="1055" width="11" height="2.5" fill="#4f8f6f"/><rect x="100" y="1081" width="16" height="22" rx="1" fill="#3f8a6c"/><rect x="100" y="1081" width="4.5" height="22" fill="#32775a"/><rect x="104.5" y="1081" width="11.5" height="1.5" fill="#5aa084"/><rect x="124" y="1083" width="12.5" height="21" fill="#e8e8e6" stroke="#c0c0bc" stroke-width="0.5"/><rect x="121.5" y="1083" width="2.5" height="20" fill="#2f6f50"/><path d="M111,1103 Q108,1112 112,1117 Q118,1121 124,1116 Q127,1110 125,1104 M116,1103 Q112,1110 116,1114 M126,1104 Q130,1112 126,1118" fill="none" stroke="#505050" stroke-width="0.9"/><path d="M116,1089 Q124,1092 125,1098" fill="none" stroke="#444" stroke-width="0.8"/><ellipse cx="115.5" cy="1046.5" rx="10" ry="8.5" fill="#d9d5cf"/><ellipse cx="114.5" cy="1048" rx="8" ry="6.5" fill="#cfcac3"/><ellipse cx="117.5" cy="1043" rx="3.6" ry="3.6" fill="#eef0ee" stroke="#b0aea8" stroke-width="0.5"/><rect x="108" y="1037" width="4" height="7" fill="#c9c6c0" transform="rotate(-25 110 1040)"/><rect x="120" y="1034" width="2.5" height="4" fill="#3a3a3a"/><rect x="123.5" y="1033" width="1.5" height="4" fill="#3a3a3a"/><polygon points="95,1029 130,1020.5 131.5,1031.5 100,1039.5 95,1034" fill="url(#camG)"/><polygon points="95,1028 130,1019.8 130.8,1022.5 96,1031" fill="#f8f8f6"/><polygon points="87.5,1029.5 96,1027.5 104,1033 104,1040 98,1041 87.5,1033" fill="#ada89e"/><polygon points="96,1033 103,1032 103,1038.5 97,1039.5" fill="#343432"/><line x1="104.0" y1="1030.5" x2="108.0" y2="1029.5" stroke="#c4c2bc" stroke-width="0.5"/><line x1="109.5" y1="1029.15" x2="113.5" y2="1028.15" stroke="#c4c2bc" stroke-width="0.5"/><line x1="115.0" y1="1027.8" x2="119.0" y2="1026.8" stroke="#c4c2bc" stroke-width="0.5"/><line x1="120.5" y1="1026.45" x2="124.5" y2="1025.45" stroke="#c4c2bc" stroke-width="0.5"/><line x1="126.0" y1="1025.1" x2="130.0" y2="1024.1" stroke="#c4c2bc" stroke-width="0.5"/></g><g transform="translate(1094.1,0)"><path d="M124,1052 Q131,1058 132,1066 Q134,1076 128,1081 Q122,1084 116,1083 M126,1053 Q136,1066 136,1074 Q135,1082 124,1085 M120,1060 Q130,1062 131,1072" fill="none" stroke="#4a4a4a" stroke-width="0.9"/><rect x="113" y="1056" width="9" height="78.5" fill="url(#poleG)"/><rect x="112" y="1055" width="11" height="2.5" fill="#4f8f6f"/><rect x="100" y="1081" width="16" height="22" rx="1" fill="#3f8a6c"/><rect x="100" y="1081" width="4.5" height="22" fill="#32775a"/><rect x="104.5" y="1081" width="11.5" height="1.5" fill="#5aa084"/><rect x="124" y="1083" width="12.5" height="21" fill="#e8e8e6" stroke="#c0c0bc" stroke-width="0.5"/><rect x="121.5" y="1083" width="2.5" height="20" fill="#2f6f50"/><path d="M111,1103 Q108,1112 112,1117 Q118,1121 124,1116 Q127,1110 125,1104 M116,1103 Q112,1110 116,1114 M126,1104 Q130,1112 126,1118" fill="none" stroke="#505050" stroke-width="0.9"/><path d="M116,1089 Q124,1092 125,1098" fill="none" stroke="#444" stroke-width="0.8"/><ellipse cx="115.5" cy="1046.5" rx="10" ry="8.5" fill="#d9d5cf"/><ellipse cx="114.5" cy="1048" rx="8" ry="6.5" fill="#cfcac3"/><ellipse cx="117.5" cy="1043" rx="3.6" ry="3.6" fill="#eef0ee" stroke="#b0aea8" stroke-width="0.5"/><rect x="108" y="1037" width="4" height="7" fill="#c9c6c0" transform="rotate(-25 110 1040)"/><rect x="120" y="1034" width="2.5" height="4" fill="#3a3a3a"/><rect x="123.5" y="1033" width="1.5" height="4" fill="#3a3a3a"/><polygon points="95,1029 130,1020.5 131.5,1031.5 100,1039.5 95,1034" fill="url(#camG)"/><polygon points="95,1028 130,1019.8 130.8,1022.5 96,1031" fill="#f8f8f6"/><polygon points="87.5,1029.5 96,1027.5 104,1033 104,1040 98,1041 87.5,1033" fill="#ada89e"/><polygon points="96,1033 103,1032 103,1038.5 97,1039.5" fill="#343432"/><line x1="104.0" y1="1030.5" x2="108.0" y2="1029.5" stroke="#c4c2bc" stroke-width="0.5"/><line x1="109.5" y1="1029.15" x2="113.5" y2="1028.15" stroke="#c4c2bc" stroke-width="0.5"/><line x1="115.0" y1="1027.8" x2="119.0" y2="1026.8" stroke="#c4c2bc" stroke-width="0.5"/><line x1="120.5" y1="1026.45" x2="124.5" y2="1025.45" stroke="#c4c2bc" stroke-width="0.5"/><line x1="126.0" y1="1025.1" x2="130.0" y2="1024.1" stroke="#c4c2bc" stroke-width="0.5"/></g><g transform="translate(0,0)"><rect x="233.8" y="1117.5" width="15.7" height="17" fill="url(#steelG)"/><rect x="233.8" y="1119.0" width="15.7" height="0.8" fill="#6a6a6a" opacity="0.6"/><rect x="233.8" y="1121.6" width="15.7" height="0.8" fill="#6a6a6a" opacity="0.6"/><rect x="233.8" y="1124.2" width="15.7" height="0.8" fill="#6a6a6a" opacity="0.6"/><rect x="233.8" y="1126.8" width="15.7" height="0.8" fill="#6a6a6a" opacity="0.6"/><rect x="233.8" y="1129.4" width="15.7" height="0.8" fill="#6a6a6a" opacity="0.6"/><rect x="233.8" y="1132.0" width="15.7" height="0.8" fill="#6a6a6a" opacity="0.6"/><polygon points="228.8,1108 231,1106.3 253,1106.3 255.1,1108 255.1,1116 252,1118 232,1118 228.8,1116" fill="url(#nutG)"/><rect x="230.2" y="1066" width="24" height="41" fill="url(#steelG)"/><polygon points="226.9,1052 230,1049.5 253,1049.5 256,1052 256,1063 253,1066.2 230,1066.2 226.9,1063" fill="#151515"/><rect x="226.9" y="1057" width="29.1" height="1" fill="#2a2a2a"/><path d="M254.6,1031 L269,1029.2 Q273,1029.5 273,1037 Q273,1045 269,1045 L254.6,1045 Z" fill="#181818"/><rect x="229.2" y="1028.3" width="25.4" height="22.2" rx="2.5" fill="#1a1a1a"/><rect x="238" y="1028.3" width="5" height="1.6" fill="#555"/><circle cx="239" cy="1040" r="6" fill="none" stroke="#262626" stroke-width="0.8"/></g><g transform="translate(57.7,0)"><rect x="233.8" y="1117.5" width="15.7" height="17" fill="url(#steelG)"/><rect x="233.8" y="1119.0" width="15.7" height="0.8" fill="#6a6a6a" opacity="0.6"/><rect x="233.8" y="1121.6" width="15.7" height="0.8" fill="#6a6a6a" opacity="0.6"/><rect x="233.8" y="1124.2" width="15.7" height="0.8" fill="#6a6a6a" opacity="0.6"/><rect x="233.8" y="1126.8" width="15.7" height="0.8" fill="#6a6a6a" opacity="0.6"/><rect x="233.8" y="1129.4" width="15.7" height="0.8" fill="#6a6a6a" opacity="0.6"/><rect x="233.8" y="1132.0" width="15.7" height="0.8" fill="#6a6a6a" opacity="0.6"/><polygon points="228.8,1108 231,1106.3 253,1106.3 255.1,1108 255.1,1116 252,1118 232,1118 228.8,1116" fill="url(#nutG)"/><rect x="230.2" y="1066" width="24" height="41" fill="url(#steelG)"/><polygon points="226.9,1052 230,1049.5 253,1049.5 256,1052 256,1063 253,1066.2 230,1066.2 226.9,1063" fill="#151515"/><rect x="226.9" y="1057" width="29.1" height="1" fill="#2a2a2a"/><path d="M254.6,1031 L269,1029.2 Q273,1029.5 273,1037 Q273,1045 269,1045 L254.6,1045 Z" fill="#181818"/><rect x="229.2" y="1028.3" width="25.4" height="22.2" rx="2.5" fill="#1a1a1a"/><rect x="238" y="1028.3" width="5" height="1.6" fill="#555"/><circle cx="239" cy="1040" r="6" fill="none" stroke="#262626" stroke-width="0.8"/></g><g transform="translate(0,0)"><path d="M505,1073.5 Q515,1071 516,1076 Q516,1080 506,1080" fill="none" stroke="#222" stroke-width="1.1"/><path d="M456.7,1057.5 L502.7,1066.7 Q509.5,1070 508.2,1079 Q507.5,1090 501.5,1093.8 L475,1096 L462,1103 Z" fill="url(#cylG)"/><path d="M503.5,1067.5 Q509,1072 508.2,1079 Q507.5,1088 502,1093" fill="none" stroke="#4a4a4a" stroke-width="0.7"/><ellipse cx="457.1" cy="1082.6" rx="19.4" ry="25.1" fill="#1d1d1d" transform="rotate(3 457.1 1082.6)"/><rect x="447.3" y="1063.9" width="17.5" height="12.6" fill="none" stroke="#8a8a8a" stroke-width="0.5"/><rect x="449" y="1066.0" width="14" height="0.6" fill="#777"/><rect x="449" y="1069.3" width="14" height="0.6" fill="#777"/><rect x="449" y="1072.6" width="14" height="0.6" fill="#777"/><rect x="439.6" y="1076" width="2.3" height="1.8" fill="#d83030"/><rect x="442.3" y="1076" width="3" height="1.8" fill="#777"/><circle cx="454" cy="1083" r="3.2" fill="#111"/><circle cx="443" cy="1084.5" r="1.4" fill="#b89a4a"/><circle cx="453.5" cy="1097.5" r="3.7" fill="#b8b8b8"/><circle cx="453.5" cy="1097.5" r="2.5" fill="#555"/><circle cx="453.5" cy="1097.5" r="1.8" fill="#1a1a1a"/><circle cx="462" cy="1094" r="3.7" fill="#b8b8b8"/><circle cx="462" cy="1094" r="2.5" fill="#555"/><circle cx="462" cy="1094" r="1.8" fill="#1a1a1a"/><rect x="440.5" y="1089" width="7.5" height="5.5" rx="1" fill="#8a8a8a"/><rect x="442" y="1090.3" width="4.5" height="3" fill="#3a3a3a"/><circle cx="462" cy="1061" r="0.8" fill="#ddd"/><circle cx="441.5" cy="1068" r="0.8" fill="#ddd"/><circle cx="474.5" cy="1085.5" r="0.8" fill="#ddd"/><circle cx="459.5" cy="1106" r="0.8" fill="#ddd"/><path d="M426,1086 L438,1079" stroke="#151515" stroke-width="1.6"/><g transform="translate(388.5 1108.5) rotate(-30.3)"><rect x="0" y="-3" width="44" height="6" rx="2.5" fill="url(#probeX)"/><rect x="2" y="-1.2" width="40" height="0.5" fill="#777" opacity="0.6"/><rect x="2" y="0.8" width="40" height="0.5" fill="#777" opacity="0.6"/></g><circle cx="388.8" cy="1108.3" r="2.8" fill="#f2f2f2" stroke="#bbb" stroke-width="0.4"/><path d="M440,1092 Q420,1098 417.5,1112 Q420,1128 452,1132 Q492,1133 510,1112" fill="none" stroke="#141414" stroke-width="2.4"/><rect x="506" y="1100" width="5.5" height="11" rx="1" fill="#d6d6d6" transform="rotate(12 509 1105)"/><rect x="507.3" y="1101" width="1.5" height="9" fill="#888" transform="rotate(12 509 1105)"/></g><g transform="translate(612.3,0)"><path d="M505,1073.5 Q515,1071 516,1076 Q516,1080 506,1080" fill="none" stroke="#222" stroke-width="1.1"/><path d="M456.7,1057.5 L502.7,1066.7 Q509.5,1070 508.2,1079 Q507.5,1090 501.5,1093.8 L475,1096 L462,1103 Z" fill="url(#cylG)"/><path d="M503.5,1067.5 Q509,1072 508.2,1079 Q507.5,1088 502,1093" fill="none" stroke="#4a4a4a" stroke-width="0.7"/><ellipse cx="457.1" cy="1082.6" rx="19.4" ry="25.1" fill="#1d1d1d" transform="rotate(3 457.1 1082.6)"/><rect x="447.3" y="1063.9" width="17.5" height="12.6" fill="none" stroke="#8a8a8a" stroke-width="0.5"/><rect x="449" y="1066.0" width="14" height="0.6" fill="#777"/><rect x="449" y="1069.3" width="14" height="0.6" fill="#777"/><rect x="449" y="1072.6" width="14" height="0.6" fill="#777"/><rect x="439.6" y="1076" width="2.3" height="1.8" fill="#d83030"/><rect x="442.3" y="1076" width="3" height="1.8" fill="#777"/><circle cx="454" cy="1083" r="3.2" fill="#111"/><circle cx="443" cy="1084.5" r="1.4" fill="#b89a4a"/><circle cx="453.5" cy="1097.5" r="3.7" fill="#b8b8b8"/><circle cx="453.5" cy="1097.5" r="2.5" fill="#555"/><circle cx="453.5" cy="1097.5" r="1.8" fill="#1a1a1a"/><circle cx="462" cy="1094" r="3.7" fill="#b8b8b8"/><circle cx="462" cy="1094" r="2.5" fill="#555"/><circle cx="462" cy="1094" r="1.8" fill="#1a1a1a"/><rect x="440.5" y="1089" width="7.5" height="5.5" rx="1" fill="#8a8a8a"/><rect x="442" y="1090.3" width="4.5" height="3" fill="#3a3a3a"/><circle cx="462" cy="1061" r="0.8" fill="#ddd"/><circle cx="441.5" cy="1068" r="0.8" fill="#ddd"/><circle cx="474.5" cy="1085.5" r="0.8" fill="#ddd"/><circle cx="459.5" cy="1106" r="0.8" fill="#ddd"/><path d="M426,1086 L438,1079" stroke="#151515" stroke-width="1.6"/><g transform="translate(388.5 1108.5) rotate(-30.3)"><rect x="0" y="-3" width="44" height="6" rx="2.5" fill="url(#probeX)"/><rect x="2" y="-1.2" width="40" height="0.5" fill="#777" opacity="0.6"/><rect x="2" y="0.8" width="40" height="0.5" fill="#777" opacity="0.6"/></g><circle cx="388.8" cy="1108.3" r="2.8" fill="#f2f2f2" stroke="#bbb" stroke-width="0.4"/><path d="M440,1092 Q420,1098 417.5,1112 Q420,1128 452,1132 Q492,1133 510,1112" fill="none" stroke="#141414" stroke-width="2.4"/><rect x="506" y="1100" width="5.5" height="11" rx="1" fill="#d6d6d6" transform="rotate(12 509 1105)"/><rect x="507.3" y="1101" width="1.5" height="9" fill="#888" transform="rotate(12 509 1105)"/></g><g transform="translate(993.9,0)"><path d="M505,1073.5 Q515,1071 516,1076 Q516,1080 506,1080" fill="none" stroke="#222" stroke-width="1.1"/><path d="M456.7,1057.5 L502.7,1066.7 Q509.5,1070 508.2,1079 Q507.5,1090 501.5,1093.8 L475,1096 L462,1103 Z" fill="url(#cylG)"/><path d="M503.5,1067.5 Q509,1072 508.2,1079 Q507.5,1088 502,1093" fill="none" stroke="#4a4a4a" stroke-width="0.7"/><ellipse cx="457.1" cy="1082.6" rx="19.4" ry="25.1" fill="#1d1d1d" transform="rotate(3 457.1 1082.6)"/><rect x="447.3" y="1063.9" width="17.5" height="12.6" fill="none" stroke="#8a8a8a" stroke-width="0.5"/><rect x="449" y="1066.0" width="14" height="0.6" fill="#777"/><rect x="449" y="1069.3" width="14" height="0.6" fill="#777"/><rect x="449" y="1072.6" width="14" height="0.6" fill="#777"/><rect x="439.6" y="1076" width="2.3" height="1.8" fill="#d83030"/><rect x="442.3" y="1076" width="3" height="1.8" fill="#777"/><circle cx="454" cy="1083" r="3.2" fill="#111"/><circle cx="443" cy="1084.5" r="1.4" fill="#b89a4a"/><circle cx="453.5" cy="1097.5" r="3.7" fill="#b8b8b8"/><circle cx="453.5" cy="1097.5" r="2.5" fill="#555"/><circle cx="453.5" cy="1097.5" r="1.8" fill="#1a1a1a"/><circle cx="462" cy="1094" r="3.7" fill="#b8b8b8"/><circle cx="462" cy="1094" r="2.5" fill="#555"/><circle cx="462" cy="1094" r="1.8" fill="#1a1a1a"/><rect x="440.5" y="1089" width="7.5" height="5.5" rx="1" fill="#8a8a8a"/><rect x="442" y="1090.3" width="4.5" height="3" fill="#3a3a3a"/><circle cx="462" cy="1061" r="0.8" fill="#ddd"/><circle cx="441.5" cy="1068" r="0.8" fill="#ddd"/><circle cx="474.5" cy="1085.5" r="0.8" fill="#ddd"/><circle cx="459.5" cy="1106" r="0.8" fill="#ddd"/><path d="M426,1086 L438,1079" stroke="#151515" stroke-width="1.6"/><g transform="translate(388.5 1108.5) rotate(-30.3)"><rect x="0" y="-3" width="44" height="6" rx="2.5" fill="url(#probeX)"/><rect x="2" y="-1.2" width="40" height="0.5" fill="#777" opacity="0.6"/><rect x="2" y="0.8" width="40" height="0.5" fill="#777" opacity="0.6"/></g><circle cx="388.8" cy="1108.3" r="2.8" fill="#f2f2f2" stroke="#bbb" stroke-width="0.4"/><path d="M440,1092 Q420,1098 417.5,1112 Q420,1128 452,1132 Q492,1133 510,1112" fill="none" stroke="#141414" stroke-width="2.4"/><rect x="506" y="1100" width="5.5" height="11" rx="1" fill="#d6d6d6" transform="rotate(12 509 1105)"/><rect x="507.3" y="1101" width="1.5" height="9" fill="#888" transform="rotate(12 509 1105)"/></g><path d="M615,1057 Q604,1066 596.8,1080" fill="none" stroke="url(#fadeBlue)" stroke-width="3"/><ellipse cx="637" cy="1080" rx="27.2" ry="27.6" fill="none" stroke="#2036b4" stroke-width="4.4"/><ellipse cx="637.3" cy="1080.3" rx="27" ry="27.2" fill="none" stroke="#14248a" stroke-width="0.6" opacity="0.7"/><path d="M617,1058 Q640,1036 660,1039.5 Q680,1043 684.3,1057.5" fill="none" stroke="#2a40c0" stroke-width="2.8"/><line x1="618" y1="1055" x2="622" y2="1062" stroke="#ccc" stroke-width="1"/><polygon points="681.4,1057 686.9,1057 687,1065.5 691.1,1075 691.1,1133 689,1134.3 679,1134.3 677.1,1133 677.1,1075 681.2,1065.5" fill="url(#steelG)"/><path d="M940.8,1049.2 L953.8,1046.5" stroke="#222" stroke-width="0.8"/><circle cx="940.8" cy="1049.2" r="2.5" fill="#1a1a1a"/><circle cx="953.8" cy="1047" r="2.5" fill="#1a1a1a"/><circle cx="957" cy="1050" r="1.8" fill="#1a1a1a"/><polygon points="949.5,1050 952.5,1050 954.5,1063 947,1063" fill="#f0f0f0"/><polygon points="962.3,1054.5 981.5,1053.8 986,1058 992.3,1066 943.8,1067 950,1063 961,1060" fill="#f4f4f4"/><ellipse cx="972" cy="1055" rx="9.5" ry="2" fill="#1f1f1f"/><polygon points="982,1056 992.3,1065 986,1065" fill="#505560"/><polygon points="943.8,1067 992.3,1066 988,1070.8 948,1070.8" fill="#1e1e1e"/><polygon points="947,1071 951,1071 950,1080 948,1080" fill="#1e1e1e"/><path d="M940,1081.5 L960,1080" stroke="#555" stroke-width="0.8"/><polygon points="952,1081 960,1078.5 959,1087 955,1086" fill="#222"/><rect x="970.5" y="1071.5" width="11.5" height="1.8" rx="0.9" fill="#f2f2f2" stroke="#b8b8b8" stroke-width="0.4"/><rect x="970.5" y="1073.9" width="11.5" height="1.8" rx="0.9" fill="#f2f2f2" stroke="#b8b8b8" stroke-width="0.4"/><rect x="970.5" y="1076.3" width="11.5" height="1.8" rx="0.9" fill="#f2f2f2" stroke="#b8b8b8" stroke-width="0.4"/><rect x="970.5" y="1078.7" width="11.5" height="1.8" rx="0.9" fill="#f2f2f2" stroke="#b8b8b8" stroke-width="0.4"/><rect x="970.5" y="1081.1" width="11.5" height="1.8" rx="0.9" fill="#f2f2f2" stroke="#b8b8b8" stroke-width="0.4"/><rect x="970.5" y="1083.5" width="11.5" height="1.8" rx="0.9" fill="#f2f2f2" stroke="#b8b8b8" stroke-width="0.4"/><rect x="961.5" y="1070.8" width="7" height="36" fill="#1a1a1a"/><polygon points="960,1097 974,1097 976.2,1108.5 960,1108.5" fill="#141414"/><polygon points="898.1,1090 899.5,1089 954.6,1088.5 956,1089.5 962.7,1126 961,1127 905,1133 904,1132" fill="#3a3a3a"/><polygon points="906.5,1093.8 951.5,1093 956.2,1122.7 909.6,1125.4" fill="#0a0a0a"/><rect x="908.5" y="1095" width="12" height="1" fill="#ddd" opacity="0.7"/><rect x="937" y="1095" width="11" height="1" fill="#ddd" opacity="0.6"/><rect x="922.5" y="1095.5" width="13" height="3.5" fill="#1a1a1a"/><rect x="927" y="1096" width="8" height="2.4" fill="#3cd040"/><circle cx="909.5" cy="1098.5" r="1.6" fill="#3a9ae0"/><circle cx="915" cy="1098.5" r="1.8" fill="#f0b020"/><ellipse cx="919" cy="1098" rx="2" ry="1" fill="#f4f4f4"/><polygon points="908,1102 922,1101.5 922.5,1104 908.3,1104.5" fill="#f2f2f2"/><polygon points="908.3,1104.5 922.5,1104 923,1110.5 908.8,1111" fill="#120404"/><polygon points="908.8,1111 923,1110.5 923.2,1112.6 909,1113" fill="#5ce65c"/><circle cx="931.9" cy="1107.7" r="6.6" fill="#060a10" stroke="#2ec0f0" stroke-width="1.4"/><text x="931.9" y="1107.5" font-size="5.5" font-weight="bold" text-anchor="middle" fill="#7ae0ff" font-family="Liberation Sans">30</text><polygon points="937,1097 951,1096.8 953,1111.5 938,1112" fill="#4a2a08"/><text x="945" y="1106" font-size="7" font-weight="bold" text-anchor="middle" fill="#e8a828" font-family="Liberation Sans">30</text><polygon points="940.8,1113 953.8,1112.6 954.6,1117.7 941,1118" fill="#d82020"/><rect x="910" y="1114" width="8" height="6" fill="#1a2a3a"/><text x="924" y="1119.5" font-size="5" font-weight="bold" fill="#f0f0f0" font-family="Liberation Sans">12:30</text><rect x="942" y="1119" width="9" height="2.5" fill="#3a8ad8" opacity="0.8"/><polygon points="925.4,1124 945.4,1123.5 945.4,1126.5 925.4,1127.5" fill="#cfcfcf"/><g clip-path="url(#tclip)"><rect x="1306.3" y="1027.2" width="73.6" height="110.6" fill="url(#skyG)"/><polygon points="1306.3,1027.2 1379.9,1027.2 1379.9,1049.8 1306.3,1049.8" fill="url(#cloudBand)" /><ellipse cx="1315.0" cy="1032.5" rx="10.6" ry="3.4" fill="#fff" opacity="0.7"/><ellipse cx="1340.0" cy="1031.5" rx="14.4" ry="2.9" fill="#fff" opacity="0.6"/><ellipse cx="1366.9" cy="1035.4" rx="11.5" ry="2.9" fill="#fff" opacity="0.6"/><ellipse cx="1312.1" cy="1042.1" rx="5.8" ry="3.4" fill="#fff" opacity="0.7"/><ellipse cx="1330.4" cy="1040.2" rx="6.7" ry="1.7" fill="#fff" opacity="0.5"/><ellipse cx="1352.5" cy="1039.2" rx="8.7" ry="1.4" fill="#fff" opacity="0.5"/><ellipse cx="1338.1" cy="1046.0" rx="7.7" ry="1.3" fill="#fff" opacity="0.5"/><ellipse cx="1365.0" cy="1043.1" rx="6.7" ry="1.3" fill="#fff" opacity="0.5"/><ellipse cx="1309.2" cy="1081.5" rx="4.8" ry="2.9" fill="#fff" opacity="0.6"/><ellipse cx="1368.8" cy="1087.3" rx="8.7" ry="3.8" fill="#fff" opacity="0.55"/><ellipse cx="1312.1" cy="1098.8" rx="6.7" ry="5.8" fill="#fff" opacity="0.5"/><polygon points="1306.3,1118.1 1379.9,1118.1 1379.9,1121.0 1306.3,1121.0" fill="#3c4a56" /><polygon points="1306.3,1112.3 1379.9,1112.3 1379.9,1118.1 1306.3,1118.1" fill="#dce8f0" /><polygon points="1306.3,1121.0 1379.9,1121.0 1379.9,1137.8 1306.3,1137.8" fill="#a38d6b" /><polygon points="1374.6,1120.0 1379.9,1120.0 1379.9,1137.8 1343.8,1137.8" fill="#b9b4ac" /><polygon points="1306.3,1125.8 1338.1,1123.8 1357.3,1127.7 1318.8,1133.5 1306.3,1131.5" fill="#8f8a5c" opacity="0.5"/><polygon points="1309.2,1107.5 1317.9,1111.3 1316.0,1113.3 1310.7,1110.4" fill="#e6eaee" /><polygon points="1311.6,1111.3 1314.0,1112.3 1313.6,1116.2 1311.6,1116.2" fill="#d8dee4" /><polygon points="1359.2,1103.7 1372.7,1108.5 1371.7,1111.3 1361.2,1107.5" fill="#e8ecf0" /><polygon points="1361.2,1107.5 1371.7,1111.3 1368.8,1119.0 1362.1,1119.0" fill="#c8d0d8" /><path d="M 1346.7 1089.2 Q 1363.1 1093.1 1374.6 1099.8 L 1372.7 1101.7 Q 1361.2 1100.8 1351.5 1096.9 Q 1347.7 1094.0 1346.7 1089.2 Z" fill="#e4e9ee"/><path d="M 1346.7 1089.2 Q 1363.1 1092.1 1374.6 1099.8 Q 1361.2 1096.0 1346.7 1089.2 Z" fill="#f4f6f8"/><polygon points="1347.7,1100.8 1357.3,1101.7 1358.3,1120.0 1349.6,1120.0" fill="#d6dde4" /><polygon points="1350.6,1102.7 1353.5,1101.7 1355.4,1106.5 1351.5,1107.5" fill="#3a5a70" /><polygon points="1326.5,1100.8 1343.8,1100.8 1352.5,1120.0 1321.7,1120.0" fill="#dfe5ea" /><path d="M 1328.5 1104.6 L 1347.7 1119.0 M 1343.8 1104.6 L 1324.6 1119.0 M 1335.2 1100.8 L 1335.2 1120.0" stroke="#9aa8b4" stroke-width="1" fill="none"/><polygon points="1322.7,1085.4 1343.8,1083.5 1343.8,1100.8 1323.2,1099.8" fill="#e4e9ee" /><polygon points="1322.7,1085.4 1326.5,1084.4 1326.5,1099.8 1323.2,1099.8" fill="#b8c2cc" /><ellipse cx="1336.2" cy="1091.2" rx="4" ry="3.5" fill="#4a6a80"/><polygon points="1323.7,1086.3 1325.6,1086.3 1325.6,1093.1 1323.7,1093.1" fill="#3a4a5a" /><path d="M 1313.6 1051.2 Q 1340.0 1061.3 1375.6 1083.5 L 1372.7 1086.3 Q 1357.3 1088.3 1343.8 1087.3 Q 1328.5 1081.5 1318.8 1066.2 Q 1314.5 1058.5 1313.6 1051.2 Z" fill="#cfd6dd"/><path d="M 1315.0 1053.7 Q 1321.7 1077.7 1340.0 1087.3" stroke="#8d98a4" stroke-width="0.45" fill="none"/><path d="M 1322.2 1057.5 Q 1325.3 1078.7 1340.6 1087.3" stroke="#8d98a4" stroke-width="0.45" fill="none"/><path d="M 1329.4 1061.3 Q 1328.9 1079.6 1341.2 1087.3" stroke="#8d98a4" stroke-width="0.45" fill="none"/><path d="M 1336.6 1065.2 Q 1332.5 1080.6 1341.8 1087.3" stroke="#8d98a4" stroke-width="0.45" fill="none"/><path d="M 1343.8 1069.0 Q 1336.2 1081.5 1342.4 1087.3" stroke="#8d98a4" stroke-width="0.45" fill="none"/><path d="M 1351.1 1072.9 Q 1339.8 1082.5 1343.0 1087.3" stroke="#8d98a4" stroke-width="0.45" fill="none"/><path d="M 1358.3 1076.7 Q 1343.4 1083.5 1343.6 1087.3" stroke="#8d98a4" stroke-width="0.45" fill="none"/><path d="M 1365.5 1080.6 Q 1347.0 1084.4 1344.2 1087.3" stroke="#8d98a4" stroke-width="0.45" fill="none"/><path d="M 1372.7 1084.4 Q 1350.6 1085.4 1344.8 1087.3" stroke="#8d98a4" stroke-width="0.45" fill="none"/><path d="M 1315.0 1057.5 Q 1339.0 1070.0 1374.3 1084.7" stroke="#8d98a4" stroke-width="0.45" fill="none"/><path d="M 1316.0 1062.3 Q 1340.0 1071.9 1374.0 1085.1" stroke="#8d98a4" stroke-width="0.45" fill="none"/><path d="M 1316.9 1067.1 Q 1341.0 1073.8 1373.7 1085.4" stroke="#8d98a4" stroke-width="0.45" fill="none"/><path d="M 1317.9 1071.9 Q 1341.9 1075.8 1373.3 1085.7" stroke="#8d98a4" stroke-width="0.45" fill="none"/><path d="M 1318.8 1076.7 Q 1342.9 1077.7 1373.0 1086.0" stroke="#8d98a4" stroke-width="0.45" fill="none"/><path d="M 1313.6 1051.2 Q 1343.8 1058.5 1375.6 1083.0 Q 1347.7 1070.0 1313.6 1051.2 Z" fill="#f3f5f7"/><path d="M 1313.6 1051.2 Q 1347.7 1070.0 1375.6 1083.0 L 1374.6 1084.4 Q 1343.8 1068.1 1314.0 1053.2 Z" fill="#dde3e8"/><path d="M 1336.2 1059.4 L 1352.5 1048.8 M 1340.0 1062.3 L 1353.5 1049.8 M 1356.3 1066.2 L 1354.4 1048.8" stroke="#f2f4f6" stroke-width="1.1" fill="none"/><polygon points="1349.6,1047.9 1357.3,1047.9 1357.3,1055.6 1349.6,1056.5" fill="#e8ecf0" /><polygon points="1350.6,1052.7 1353.5,1052.7 1353.5,1055.1 1350.6,1055.1" fill="#555" /></g></svg>
</div></body></html>
